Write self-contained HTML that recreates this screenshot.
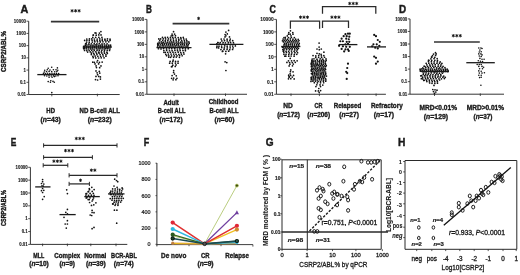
<!DOCTYPE html>
<html><head><meta charset="utf-8"><style>
html,body{margin:0;padding:0;background:#fff;overflow:hidden;}
svg{display:block;font-family:"Liberation Sans", sans-serif;filter:blur(0.45px);}
</style></head><body>
<svg width="520" height="275" viewBox="0 0 520 275">
<rect width="520" height="275" fill="#fff"/>
<text x="20.40" y="12.50" font-size="10.8" text-anchor="start" font-weight="bold" fill="#1a1a1a" textLength="7.800000000000001" lengthAdjust="spacingAndGlyphs" stroke="#1a1a1a" stroke-width="0.45">A</text>
<line x1="28.70" y1="21.20" x2="28.70" y2="94.52" stroke="#2a2a2a" stroke-width="0.95" />
<line x1="26.50" y1="21.20" x2="28.70" y2="21.20" stroke="#2a2a2a" stroke-width="0.8" />
<text x="26.00" y="22.82" font-size="4.5" text-anchor="end" font-weight="bold" fill="#1a1a1a" textLength="12.13" lengthAdjust="spacingAndGlyphs" stroke="#1a1a1a" stroke-width="0.12">10000</text>
<line x1="26.50" y1="33.42" x2="28.70" y2="33.42" stroke="#2a2a2a" stroke-width="0.8" />
<text x="26.00" y="35.04" font-size="4.5" text-anchor="end" font-weight="bold" fill="#1a1a1a" textLength="9.71" lengthAdjust="spacingAndGlyphs" stroke="#1a1a1a" stroke-width="0.12">1000</text>
<line x1="26.50" y1="45.64" x2="28.70" y2="45.64" stroke="#2a2a2a" stroke-width="0.8" />
<text x="26.00" y="47.26" font-size="4.5" text-anchor="end" font-weight="bold" fill="#1a1a1a" textLength="7.28" lengthAdjust="spacingAndGlyphs" stroke="#1a1a1a" stroke-width="0.12">100</text>
<line x1="26.50" y1="57.86" x2="28.70" y2="57.86" stroke="#2a2a2a" stroke-width="0.8" />
<text x="26.00" y="59.48" font-size="4.5" text-anchor="end" font-weight="bold" fill="#1a1a1a" textLength="4.85" lengthAdjust="spacingAndGlyphs" stroke="#1a1a1a" stroke-width="0.12">10</text>
<line x1="26.50" y1="70.08" x2="28.70" y2="70.08" stroke="#2a2a2a" stroke-width="0.8" />
<text x="26.00" y="71.70" font-size="4.5" text-anchor="end" font-weight="bold" fill="#1a1a1a" textLength="2.43" lengthAdjust="spacingAndGlyphs" stroke="#1a1a1a" stroke-width="0.12">1</text>
<line x1="26.50" y1="82.30" x2="28.70" y2="82.30" stroke="#2a2a2a" stroke-width="0.8" />
<text x="26.00" y="83.92" font-size="4.5" text-anchor="end" font-weight="bold" fill="#1a1a1a" textLength="6.07" lengthAdjust="spacingAndGlyphs" stroke="#1a1a1a" stroke-width="0.12">0.1</text>
<line x1="26.50" y1="94.52" x2="28.70" y2="94.52" stroke="#2a2a2a" stroke-width="0.8" />
<text x="26.00" y="96.14" font-size="4.5" text-anchor="end" font-weight="bold" fill="#1a1a1a" textLength="8.49" lengthAdjust="spacingAndGlyphs" stroke="#1a1a1a" stroke-width="0.12">0.01</text>
<line x1="28.70" y1="94.52" x2="119.70" y2="94.52" stroke="#2a2a2a" stroke-width="0.95" />
<line x1="51.80" y1="93.72" x2="51.80" y2="96.32" stroke="#2a2a2a" stroke-width="0.8" />
<line x1="97.40" y1="93.72" x2="97.40" y2="96.32" stroke="#2a2a2a" stroke-width="0.8" />
<line x1="50.90" y1="21.70" x2="99.20" y2="21.70" stroke="#333" stroke-width="1.7" />
<path d="M72.10,9.15L72.10,12.45M70.67,9.98L73.53,11.62M70.67,11.62L73.53,9.98" stroke="#111" stroke-width="0.9" stroke-linecap="butt" fill="none"/>
<path d="M75.60,9.15L75.60,12.45M74.17,9.98L77.03,11.62M74.17,11.62L77.03,9.98" stroke="#111" stroke-width="0.9" stroke-linecap="butt" fill="none"/>
<path d="M79.10,9.15L79.10,12.45M77.67,9.98L80.53,11.62M77.67,11.62L80.53,9.98" stroke="#111" stroke-width="0.9" stroke-linecap="butt" fill="none"/>
<circle cx="51.70" cy="67.20" r="0.82" fill="#111"/>
<circle cx="48.20" cy="68.30" r="0.82" fill="#111"/>
<circle cx="57.40" cy="67.90" r="0.82" fill="#111"/>
<circle cx="44.70" cy="70.30" r="0.82" fill="#111"/>
<circle cx="47.30" cy="69.70" r="0.82" fill="#111"/>
<circle cx="50.00" cy="70.00" r="0.82" fill="#111"/>
<circle cx="53.40" cy="69.70" r="0.82" fill="#111"/>
<circle cx="56.00" cy="69.80" r="0.82" fill="#111"/>
<circle cx="57.80" cy="70.30" r="0.82" fill="#111"/>
<circle cx="44.30" cy="72.00" r="0.82" fill="#111"/>
<circle cx="46.50" cy="71.60" r="0.82" fill="#111"/>
<circle cx="49.10" cy="71.40" r="0.82" fill="#111"/>
<circle cx="51.70" cy="71.60" r="0.82" fill="#111"/>
<circle cx="54.70" cy="71.80" r="0.82" fill="#111"/>
<circle cx="56.90" cy="71.40" r="0.82" fill="#111"/>
<circle cx="43.50" cy="73.40" r="0.82" fill="#111"/>
<circle cx="45.50" cy="73.60" r="0.82" fill="#111"/>
<circle cx="47.60" cy="73.30" r="0.82" fill="#111"/>
<circle cx="49.80" cy="73.50" r="0.82" fill="#111"/>
<circle cx="52.00" cy="73.30" r="0.82" fill="#111"/>
<circle cx="54.20" cy="73.60" r="0.82" fill="#111"/>
<circle cx="56.40" cy="73.40" r="0.82" fill="#111"/>
<circle cx="58.60" cy="73.60" r="0.82" fill="#111"/>
<circle cx="44.50" cy="75.80" r="0.82" fill="#111"/>
<circle cx="46.80" cy="76.00" r="0.82" fill="#111"/>
<circle cx="49.00" cy="75.80" r="0.82" fill="#111"/>
<circle cx="51.30" cy="76.00" r="0.82" fill="#111"/>
<circle cx="53.60" cy="75.80" r="0.82" fill="#111"/>
<circle cx="55.80" cy="76.00" r="0.82" fill="#111"/>
<circle cx="58.00" cy="75.80" r="0.82" fill="#111"/>
<circle cx="49.10" cy="77.30" r="0.82" fill="#111"/>
<circle cx="52.10" cy="77.30" r="0.82" fill="#111"/>
<circle cx="54.30" cy="76.60" r="0.82" fill="#111"/>
<circle cx="48.20" cy="81.60" r="0.82" fill="#111"/>
<circle cx="50.40" cy="82.20" r="0.82" fill="#111"/>
<circle cx="53.00" cy="81.40" r="0.82" fill="#111"/>
<circle cx="54.30" cy="82.20" r="0.82" fill="#111"/>
<circle cx="50.80" cy="80.70" r="0.82" fill="#111"/>
<circle cx="51.80" cy="92.60" r="0.82" fill="#111"/>
<line x1="37.30" y1="74.60" x2="66.50" y2="74.60" stroke="#1a1a1a" stroke-width="1.3" />
<circle cx="100.90" cy="31.60" r="0.86" fill="#111"/>
<circle cx="96.03" cy="33.11" r="0.86" fill="#111"/>
<circle cx="99.42" cy="33.10" r="0.86" fill="#111"/>
<circle cx="95.08" cy="32.93" r="0.86" fill="#111"/>
<circle cx="93.38" cy="34.99" r="0.86" fill="#111"/>
<circle cx="96.23" cy="35.13" r="0.86" fill="#111"/>
<circle cx="98.77" cy="34.92" r="0.86" fill="#111"/>
<circle cx="101.02" cy="34.96" r="0.86" fill="#111"/>
<circle cx="93.23" cy="35.23" r="0.86" fill="#111"/>
<circle cx="92.80" cy="37.42" r="0.86" fill="#111"/>
<circle cx="95.70" cy="37.28" r="0.86" fill="#111"/>
<circle cx="98.87" cy="37.33" r="0.86" fill="#111"/>
<circle cx="101.90" cy="37.32" r="0.86" fill="#111"/>
<circle cx="86.78" cy="39.01" r="0.86" fill="#111"/>
<circle cx="89.42" cy="38.92" r="0.86" fill="#111"/>
<circle cx="91.76" cy="38.97" r="0.86" fill="#111"/>
<circle cx="94.35" cy="39.00" r="0.86" fill="#111"/>
<circle cx="97.14" cy="39.11" r="0.86" fill="#111"/>
<circle cx="99.80" cy="38.93" r="0.86" fill="#111"/>
<circle cx="102.27" cy="39.03" r="0.86" fill="#111"/>
<circle cx="104.94" cy="39.18" r="0.86" fill="#111"/>
<circle cx="107.45" cy="38.82" r="0.86" fill="#111"/>
<circle cx="110.03" cy="39.20" r="0.86" fill="#111"/>
<circle cx="86.89" cy="40.31" r="0.86" fill="#111"/>
<circle cx="89.27" cy="40.35" r="0.86" fill="#111"/>
<circle cx="92.09" cy="40.35" r="0.86" fill="#111"/>
<circle cx="94.52" cy="40.65" r="0.86" fill="#111"/>
<circle cx="97.12" cy="40.52" r="0.86" fill="#111"/>
<circle cx="99.85" cy="40.65" r="0.86" fill="#111"/>
<circle cx="102.27" cy="40.44" r="0.86" fill="#111"/>
<circle cx="105.06" cy="40.36" r="0.86" fill="#111"/>
<circle cx="107.35" cy="40.39" r="0.86" fill="#111"/>
<circle cx="110.07" cy="40.41" r="0.86" fill="#111"/>
<circle cx="84.67" cy="40.45" r="0.86" fill="#111"/>
<circle cx="86.67" cy="42.05" r="0.86" fill="#111"/>
<circle cx="89.24" cy="42.16" r="0.86" fill="#111"/>
<circle cx="92.32" cy="42.12" r="0.86" fill="#111"/>
<circle cx="94.89" cy="41.84" r="0.86" fill="#111"/>
<circle cx="97.51" cy="41.83" r="0.86" fill="#111"/>
<circle cx="100.30" cy="41.94" r="0.86" fill="#111"/>
<circle cx="102.99" cy="41.86" r="0.86" fill="#111"/>
<circle cx="105.89" cy="41.81" r="0.86" fill="#111"/>
<circle cx="108.75" cy="41.86" r="0.86" fill="#111"/>
<circle cx="86.20" cy="43.94" r="0.86" fill="#111"/>
<circle cx="88.92" cy="43.79" r="0.86" fill="#111"/>
<circle cx="91.35" cy="43.74" r="0.86" fill="#111"/>
<circle cx="94.22" cy="43.66" r="0.86" fill="#111"/>
<circle cx="96.84" cy="43.81" r="0.86" fill="#111"/>
<circle cx="99.26" cy="43.61" r="0.86" fill="#111"/>
<circle cx="102.01" cy="43.95" r="0.86" fill="#111"/>
<circle cx="104.30" cy="43.75" r="0.86" fill="#111"/>
<circle cx="107.08" cy="43.81" r="0.86" fill="#111"/>
<circle cx="85.63" cy="43.69" r="0.86" fill="#111"/>
<circle cx="85.31" cy="45.13" r="0.86" fill="#111"/>
<circle cx="87.04" cy="45.01" r="0.86" fill="#111"/>
<circle cx="88.92" cy="44.81" r="0.86" fill="#111"/>
<circle cx="90.96" cy="45.08" r="0.86" fill="#111"/>
<circle cx="93.00" cy="45.17" r="0.86" fill="#111"/>
<circle cx="95.16" cy="44.95" r="0.86" fill="#111"/>
<circle cx="96.82" cy="44.88" r="0.86" fill="#111"/>
<circle cx="98.94" cy="45.16" r="0.86" fill="#111"/>
<circle cx="100.84" cy="45.06" r="0.86" fill="#111"/>
<circle cx="102.64" cy="45.06" r="0.86" fill="#111"/>
<circle cx="104.87" cy="45.10" r="0.86" fill="#111"/>
<circle cx="106.59" cy="45.12" r="0.86" fill="#111"/>
<circle cx="108.79" cy="45.19" r="0.86" fill="#111"/>
<circle cx="110.59" cy="45.18" r="0.86" fill="#111"/>
<circle cx="84.88" cy="46.46" r="0.86" fill="#111"/>
<circle cx="86.84" cy="46.43" r="0.86" fill="#111"/>
<circle cx="89.00" cy="46.24" r="0.86" fill="#111"/>
<circle cx="90.74" cy="46.11" r="0.86" fill="#111"/>
<circle cx="92.91" cy="46.31" r="0.86" fill="#111"/>
<circle cx="94.78" cy="46.45" r="0.86" fill="#111"/>
<circle cx="96.65" cy="46.20" r="0.86" fill="#111"/>
<circle cx="98.61" cy="46.33" r="0.86" fill="#111"/>
<circle cx="100.64" cy="46.15" r="0.86" fill="#111"/>
<circle cx="102.57" cy="46.28" r="0.86" fill="#111"/>
<circle cx="104.75" cy="46.27" r="0.86" fill="#111"/>
<circle cx="106.55" cy="46.31" r="0.86" fill="#111"/>
<circle cx="108.31" cy="46.28" r="0.86" fill="#111"/>
<circle cx="110.26" cy="46.42" r="0.86" fill="#111"/>
<circle cx="83.59" cy="46.39" r="0.86" fill="#111"/>
<circle cx="84.71" cy="47.71" r="0.86" fill="#111"/>
<circle cx="86.67" cy="47.50" r="0.86" fill="#111"/>
<circle cx="88.71" cy="47.60" r="0.86" fill="#111"/>
<circle cx="90.67" cy="47.76" r="0.86" fill="#111"/>
<circle cx="92.56" cy="47.60" r="0.86" fill="#111"/>
<circle cx="94.55" cy="47.58" r="0.86" fill="#111"/>
<circle cx="96.42" cy="47.78" r="0.86" fill="#111"/>
<circle cx="98.54" cy="47.78" r="0.86" fill="#111"/>
<circle cx="100.37" cy="47.78" r="0.86" fill="#111"/>
<circle cx="102.16" cy="47.45" r="0.86" fill="#111"/>
<circle cx="104.09" cy="47.50" r="0.86" fill="#111"/>
<circle cx="106.28" cy="47.71" r="0.86" fill="#111"/>
<circle cx="108.04" cy="47.69" r="0.86" fill="#111"/>
<circle cx="109.99" cy="47.75" r="0.86" fill="#111"/>
<circle cx="83.49" cy="47.78" r="0.86" fill="#111"/>
<circle cx="84.51" cy="48.76" r="0.86" fill="#111"/>
<circle cx="86.34" cy="48.84" r="0.86" fill="#111"/>
<circle cx="88.22" cy="48.99" r="0.86" fill="#111"/>
<circle cx="90.27" cy="48.88" r="0.86" fill="#111"/>
<circle cx="92.14" cy="48.95" r="0.86" fill="#111"/>
<circle cx="93.99" cy="49.09" r="0.86" fill="#111"/>
<circle cx="96.31" cy="48.74" r="0.86" fill="#111"/>
<circle cx="97.90" cy="49.01" r="0.86" fill="#111"/>
<circle cx="99.89" cy="48.87" r="0.86" fill="#111"/>
<circle cx="102.12" cy="48.80" r="0.86" fill="#111"/>
<circle cx="104.12" cy="48.93" r="0.86" fill="#111"/>
<circle cx="105.74" cy="48.72" r="0.86" fill="#111"/>
<circle cx="107.83" cy="48.73" r="0.86" fill="#111"/>
<circle cx="109.87" cy="49.02" r="0.86" fill="#111"/>
<circle cx="83.74" cy="48.73" r="0.86" fill="#111"/>
<circle cx="86.81" cy="50.67" r="0.86" fill="#111"/>
<circle cx="89.17" cy="50.51" r="0.86" fill="#111"/>
<circle cx="91.69" cy="50.36" r="0.86" fill="#111"/>
<circle cx="94.25" cy="50.42" r="0.86" fill="#111"/>
<circle cx="97.01" cy="50.42" r="0.86" fill="#111"/>
<circle cx="99.30" cy="50.44" r="0.86" fill="#111"/>
<circle cx="101.86" cy="50.31" r="0.86" fill="#111"/>
<circle cx="104.51" cy="50.38" r="0.86" fill="#111"/>
<circle cx="107.20" cy="50.34" r="0.86" fill="#111"/>
<circle cx="109.52" cy="50.50" r="0.86" fill="#111"/>
<circle cx="84.56" cy="50.50" r="0.86" fill="#111"/>
<circle cx="87.65" cy="52.08" r="0.86" fill="#111"/>
<circle cx="90.27" cy="51.94" r="0.86" fill="#111"/>
<circle cx="92.94" cy="51.83" r="0.86" fill="#111"/>
<circle cx="95.78" cy="51.87" r="0.86" fill="#111"/>
<circle cx="98.80" cy="52.15" r="0.86" fill="#111"/>
<circle cx="101.37" cy="51.90" r="0.86" fill="#111"/>
<circle cx="104.22" cy="51.86" r="0.86" fill="#111"/>
<circle cx="106.93" cy="52.18" r="0.86" fill="#111"/>
<circle cx="91.40" cy="53.22" r="0.86" fill="#111"/>
<circle cx="93.70" cy="53.25" r="0.86" fill="#111"/>
<circle cx="96.59" cy="53.18" r="0.86" fill="#111"/>
<circle cx="99.07" cy="53.21" r="0.86" fill="#111"/>
<circle cx="101.91" cy="53.12" r="0.86" fill="#111"/>
<circle cx="104.56" cy="53.19" r="0.86" fill="#111"/>
<circle cx="107.34" cy="53.40" r="0.86" fill="#111"/>
<circle cx="91.35" cy="54.53" r="0.86" fill="#111"/>
<circle cx="94.14" cy="54.69" r="0.86" fill="#111"/>
<circle cx="96.98" cy="54.73" r="0.86" fill="#111"/>
<circle cx="100.10" cy="54.69" r="0.86" fill="#111"/>
<circle cx="102.78" cy="54.61" r="0.86" fill="#111"/>
<circle cx="105.94" cy="54.72" r="0.86" fill="#111"/>
<circle cx="92.84" cy="56.28" r="0.86" fill="#111"/>
<circle cx="95.19" cy="56.05" r="0.86" fill="#111"/>
<circle cx="97.84" cy="56.33" r="0.86" fill="#111"/>
<circle cx="100.66" cy="56.25" r="0.86" fill="#111"/>
<circle cx="103.22" cy="56.00" r="0.86" fill="#111"/>
<circle cx="105.94" cy="56.20" r="0.86" fill="#111"/>
<circle cx="93.24" cy="57.70" r="0.86" fill="#111"/>
<circle cx="95.75" cy="57.89" r="0.86" fill="#111"/>
<circle cx="98.64" cy="57.99" r="0.86" fill="#111"/>
<circle cx="101.20" cy="57.79" r="0.86" fill="#111"/>
<circle cx="104.05" cy="57.85" r="0.86" fill="#111"/>
<circle cx="97.60" cy="60.50" r="0.86" fill="#111"/>
<circle cx="94.34" cy="62.30" r="0.86" fill="#111"/>
<circle cx="97.02" cy="62.00" r="0.86" fill="#111"/>
<circle cx="99.45" cy="62.27" r="0.86" fill="#111"/>
<circle cx="102.16" cy="62.12" r="0.86" fill="#111"/>
<circle cx="92.79" cy="62.19" r="0.86" fill="#111"/>
<circle cx="95.04" cy="63.97" r="0.86" fill="#111"/>
<circle cx="98.58" cy="63.93" r="0.86" fill="#111"/>
<circle cx="96.08" cy="65.91" r="0.86" fill="#111"/>
<circle cx="100.98" cy="65.88" r="0.86" fill="#111"/>
<circle cx="96.46" cy="67.61" r="0.86" fill="#111"/>
<circle cx="99.65" cy="67.73" r="0.86" fill="#111"/>
<circle cx="96.00" cy="70.90" r="0.86" fill="#111"/>
<circle cx="99.30" cy="71.40" r="0.86" fill="#111"/>
<circle cx="97.10" cy="72.80" r="0.86" fill="#111"/>
<circle cx="99.80" cy="73.10" r="0.86" fill="#111"/>
<circle cx="97.60" cy="74.70" r="0.86" fill="#111"/>
<circle cx="96.00" cy="76.40" r="0.86" fill="#111"/>
<circle cx="98.70" cy="76.40" r="0.86" fill="#111"/>
<circle cx="100.40" cy="76.90" r="0.86" fill="#111"/>
<circle cx="95.50" cy="79.60" r="0.86" fill="#111"/>
<circle cx="97.60" cy="80.00" r="0.86" fill="#111"/>
<circle cx="100.40" cy="79.10" r="0.86" fill="#111"/>
<line x1="83.00" y1="47.00" x2="112.00" y2="47.00" stroke="#1a1a1a" stroke-width="1.3" />
<text x="50.65" y="113.00" font-size="7.0" text-anchor="middle" font-weight="bold" fill="#1a1a1a" textLength="8.700000000000003" lengthAdjust="spacingAndGlyphs" stroke="#1a1a1a" stroke-width="0.36">HD</text>
<text x="50.70" y="121.80" font-size="7.0" text-anchor="middle" font-weight="bold" fill="#1a1a1a" textLength="20.199999999999996" lengthAdjust="spacingAndGlyphs" stroke="#1a1a1a" stroke-width="0.36">(<tspan font-style="italic">n</tspan>=43)</text>
<text x="99.80" y="113.00" font-size="7.0" text-anchor="middle" font-weight="bold" fill="#1a1a1a" textLength="40.400000000000006" lengthAdjust="spacingAndGlyphs" stroke="#1a1a1a" stroke-width="0.36">ND B-cell ALL</text>
<text x="99.70" y="121.80" font-size="7.0" text-anchor="middle" font-weight="bold" fill="#1a1a1a" textLength="24.0" lengthAdjust="spacingAndGlyphs" stroke="#1a1a1a" stroke-width="0.36">(<tspan font-style="italic">n</tspan>=232)</text>
<text x="6.20" y="51.50" font-size="6.8" text-anchor="middle" font-weight="bold" fill="#1a1a1a" textLength="41" lengthAdjust="spacingAndGlyphs" transform="rotate(-90 6.20 51.50)" stroke="#1a1a1a" stroke-width="0.4">CSRP2/ABL%</text>
<text x="145.90" y="12.50" font-size="10.8" text-anchor="start" font-weight="bold" fill="#1a1a1a" textLength="5.900000000000006" lengthAdjust="spacingAndGlyphs" stroke="#1a1a1a" stroke-width="0.45">B</text>
<line x1="146.90" y1="19.40" x2="146.90" y2="94.28" stroke="#2a2a2a" stroke-width="0.95" />
<line x1="144.70" y1="19.40" x2="146.90" y2="19.40" stroke="#2a2a2a" stroke-width="0.8" />
<text x="144.20" y="21.02" font-size="4.5" text-anchor="end" font-weight="bold" fill="#1a1a1a" textLength="12.13" lengthAdjust="spacingAndGlyphs" stroke="#1a1a1a" stroke-width="0.12">10000</text>
<line x1="144.70" y1="31.88" x2="146.90" y2="31.88" stroke="#2a2a2a" stroke-width="0.8" />
<text x="144.20" y="33.50" font-size="4.5" text-anchor="end" font-weight="bold" fill="#1a1a1a" textLength="9.71" lengthAdjust="spacingAndGlyphs" stroke="#1a1a1a" stroke-width="0.12">1000</text>
<line x1="144.70" y1="44.36" x2="146.90" y2="44.36" stroke="#2a2a2a" stroke-width="0.8" />
<text x="144.20" y="45.98" font-size="4.5" text-anchor="end" font-weight="bold" fill="#1a1a1a" textLength="7.28" lengthAdjust="spacingAndGlyphs" stroke="#1a1a1a" stroke-width="0.12">100</text>
<line x1="144.70" y1="56.84" x2="146.90" y2="56.84" stroke="#2a2a2a" stroke-width="0.8" />
<text x="144.20" y="58.46" font-size="4.5" text-anchor="end" font-weight="bold" fill="#1a1a1a" textLength="4.85" lengthAdjust="spacingAndGlyphs" stroke="#1a1a1a" stroke-width="0.12">10</text>
<line x1="144.70" y1="69.32" x2="146.90" y2="69.32" stroke="#2a2a2a" stroke-width="0.8" />
<text x="144.20" y="70.94" font-size="4.5" text-anchor="end" font-weight="bold" fill="#1a1a1a" textLength="2.43" lengthAdjust="spacingAndGlyphs" stroke="#1a1a1a" stroke-width="0.12">1</text>
<line x1="144.70" y1="81.80" x2="146.90" y2="81.80" stroke="#2a2a2a" stroke-width="0.8" />
<text x="144.20" y="83.42" font-size="4.5" text-anchor="end" font-weight="bold" fill="#1a1a1a" textLength="6.07" lengthAdjust="spacingAndGlyphs" stroke="#1a1a1a" stroke-width="0.12">0.1</text>
<line x1="144.70" y1="94.28" x2="146.90" y2="94.28" stroke="#2a2a2a" stroke-width="0.8" />
<text x="144.20" y="95.90" font-size="4.5" text-anchor="end" font-weight="bold" fill="#1a1a1a" textLength="8.49" lengthAdjust="spacingAndGlyphs" stroke="#1a1a1a" stroke-width="0.12">0.01</text>
<line x1="146.90" y1="94.28" x2="247.00" y2="94.28" stroke="#2a2a2a" stroke-width="0.95" />
<line x1="174.00" y1="93.48" x2="174.00" y2="96.08" stroke="#2a2a2a" stroke-width="0.8" />
<line x1="225.50" y1="93.48" x2="225.50" y2="96.08" stroke="#2a2a2a" stroke-width="0.8" />
<line x1="172.60" y1="23.60" x2="229.30" y2="23.60" stroke="#333" stroke-width="1.7" />
<path d="M198.60,16.75L198.60,20.05M197.17,17.57L200.03,19.22M197.17,19.22L200.03,17.57" stroke="#111" stroke-width="0.9" stroke-linecap="butt" fill="none"/>
<circle cx="173.56" cy="31.68" r="0.86" fill="#111"/>
<circle cx="172.06" cy="34.09" r="0.86" fill="#111"/>
<circle cx="174.60" cy="34.10" r="0.86" fill="#111"/>
<circle cx="172.67" cy="35.53" r="0.86" fill="#111"/>
<circle cx="175.48" cy="35.70" r="0.86" fill="#111"/>
<circle cx="171.25" cy="35.77" r="0.86" fill="#111"/>
<circle cx="162.49" cy="37.46" r="0.86" fill="#111"/>
<circle cx="165.15" cy="37.44" r="0.86" fill="#111"/>
<circle cx="167.60" cy="37.32" r="0.86" fill="#111"/>
<circle cx="170.41" cy="37.41" r="0.86" fill="#111"/>
<circle cx="172.75" cy="37.41" r="0.86" fill="#111"/>
<circle cx="175.30" cy="37.45" r="0.86" fill="#111"/>
<circle cx="178.16" cy="37.62" r="0.86" fill="#111"/>
<circle cx="180.75" cy="37.68" r="0.86" fill="#111"/>
<circle cx="183.25" cy="37.32" r="0.86" fill="#111"/>
<circle cx="160.64" cy="38.91" r="0.86" fill="#111"/>
<circle cx="163.33" cy="38.85" r="0.86" fill="#111"/>
<circle cx="165.67" cy="38.92" r="0.86" fill="#111"/>
<circle cx="168.49" cy="38.90" r="0.86" fill="#111"/>
<circle cx="170.80" cy="39.02" r="0.86" fill="#111"/>
<circle cx="173.31" cy="38.86" r="0.86" fill="#111"/>
<circle cx="176.18" cy="39.00" r="0.86" fill="#111"/>
<circle cx="178.75" cy="39.20" r="0.86" fill="#111"/>
<circle cx="181.02" cy="38.88" r="0.86" fill="#111"/>
<circle cx="183.67" cy="38.84" r="0.86" fill="#111"/>
<circle cx="186.21" cy="39.03" r="0.86" fill="#111"/>
<circle cx="158.80" cy="38.97" r="0.86" fill="#111"/>
<circle cx="159.76" cy="40.32" r="0.86" fill="#111"/>
<circle cx="162.72" cy="40.35" r="0.86" fill="#111"/>
<circle cx="165.29" cy="40.65" r="0.86" fill="#111"/>
<circle cx="167.86" cy="40.40" r="0.86" fill="#111"/>
<circle cx="170.64" cy="40.68" r="0.86" fill="#111"/>
<circle cx="173.52" cy="40.31" r="0.86" fill="#111"/>
<circle cx="176.16" cy="40.66" r="0.86" fill="#111"/>
<circle cx="178.82" cy="40.30" r="0.86" fill="#111"/>
<circle cx="181.66" cy="40.63" r="0.86" fill="#111"/>
<circle cx="184.39" cy="40.40" r="0.86" fill="#111"/>
<circle cx="186.77" cy="40.51" r="0.86" fill="#111"/>
<circle cx="159.12" cy="42.11" r="0.86" fill="#111"/>
<circle cx="161.21" cy="41.82" r="0.86" fill="#111"/>
<circle cx="163.22" cy="42.17" r="0.86" fill="#111"/>
<circle cx="165.38" cy="41.85" r="0.86" fill="#111"/>
<circle cx="167.64" cy="42.08" r="0.86" fill="#111"/>
<circle cx="169.55" cy="42.01" r="0.86" fill="#111"/>
<circle cx="171.81" cy="41.89" r="0.86" fill="#111"/>
<circle cx="173.79" cy="41.92" r="0.86" fill="#111"/>
<circle cx="176.31" cy="42.06" r="0.86" fill="#111"/>
<circle cx="178.24" cy="41.89" r="0.86" fill="#111"/>
<circle cx="180.57" cy="42.08" r="0.86" fill="#111"/>
<circle cx="182.33" cy="42.00" r="0.86" fill="#111"/>
<circle cx="184.62" cy="41.90" r="0.86" fill="#111"/>
<circle cx="186.96" cy="41.89" r="0.86" fill="#111"/>
<circle cx="188.86" cy="41.97" r="0.86" fill="#111"/>
<circle cx="159.06" cy="43.30" r="0.86" fill="#111"/>
<circle cx="161.15" cy="43.22" r="0.86" fill="#111"/>
<circle cx="162.86" cy="43.19" r="0.86" fill="#111"/>
<circle cx="164.88" cy="43.48" r="0.86" fill="#111"/>
<circle cx="166.84" cy="43.19" r="0.86" fill="#111"/>
<circle cx="169.03" cy="43.48" r="0.86" fill="#111"/>
<circle cx="170.92" cy="43.19" r="0.86" fill="#111"/>
<circle cx="172.82" cy="43.12" r="0.86" fill="#111"/>
<circle cx="174.92" cy="43.46" r="0.86" fill="#111"/>
<circle cx="177.06" cy="43.50" r="0.86" fill="#111"/>
<circle cx="178.90" cy="43.17" r="0.86" fill="#111"/>
<circle cx="181.06" cy="43.11" r="0.86" fill="#111"/>
<circle cx="182.92" cy="43.25" r="0.86" fill="#111"/>
<circle cx="184.83" cy="43.10" r="0.86" fill="#111"/>
<circle cx="186.90" cy="43.48" r="0.86" fill="#111"/>
<circle cx="189.15" cy="43.18" r="0.86" fill="#111"/>
<circle cx="157.73" cy="43.43" r="0.86" fill="#111"/>
<circle cx="158.42" cy="44.77" r="0.86" fill="#111"/>
<circle cx="160.41" cy="44.76" r="0.86" fill="#111"/>
<circle cx="162.43" cy="44.72" r="0.86" fill="#111"/>
<circle cx="164.28" cy="44.41" r="0.86" fill="#111"/>
<circle cx="166.63" cy="44.50" r="0.86" fill="#111"/>
<circle cx="168.62" cy="44.54" r="0.86" fill="#111"/>
<circle cx="170.65" cy="44.65" r="0.86" fill="#111"/>
<circle cx="172.55" cy="44.53" r="0.86" fill="#111"/>
<circle cx="174.27" cy="44.70" r="0.86" fill="#111"/>
<circle cx="176.52" cy="44.78" r="0.86" fill="#111"/>
<circle cx="178.36" cy="44.59" r="0.86" fill="#111"/>
<circle cx="180.65" cy="44.55" r="0.86" fill="#111"/>
<circle cx="182.44" cy="44.60" r="0.86" fill="#111"/>
<circle cx="184.34" cy="44.72" r="0.86" fill="#111"/>
<circle cx="186.59" cy="44.71" r="0.86" fill="#111"/>
<circle cx="188.39" cy="44.53" r="0.86" fill="#111"/>
<circle cx="157.71" cy="44.43" r="0.86" fill="#111"/>
<circle cx="157.82" cy="45.71" r="0.86" fill="#111"/>
<circle cx="159.93" cy="46.09" r="0.86" fill="#111"/>
<circle cx="162.19" cy="45.81" r="0.86" fill="#111"/>
<circle cx="163.83" cy="45.90" r="0.86" fill="#111"/>
<circle cx="165.97" cy="45.79" r="0.86" fill="#111"/>
<circle cx="168.04" cy="45.97" r="0.86" fill="#111"/>
<circle cx="170.13" cy="45.97" r="0.86" fill="#111"/>
<circle cx="172.13" cy="45.82" r="0.86" fill="#111"/>
<circle cx="173.94" cy="46.00" r="0.86" fill="#111"/>
<circle cx="175.89" cy="45.80" r="0.86" fill="#111"/>
<circle cx="178.15" cy="45.93" r="0.86" fill="#111"/>
<circle cx="179.95" cy="46.10" r="0.86" fill="#111"/>
<circle cx="181.89" cy="46.02" r="0.86" fill="#111"/>
<circle cx="184.19" cy="45.74" r="0.86" fill="#111"/>
<circle cx="186.12" cy="46.04" r="0.86" fill="#111"/>
<circle cx="187.81" cy="45.82" r="0.86" fill="#111"/>
<circle cx="157.87" cy="47.37" r="0.86" fill="#111"/>
<circle cx="159.99" cy="47.18" r="0.86" fill="#111"/>
<circle cx="161.95" cy="47.38" r="0.86" fill="#111"/>
<circle cx="163.88" cy="47.25" r="0.86" fill="#111"/>
<circle cx="165.79" cy="47.06" r="0.86" fill="#111"/>
<circle cx="167.74" cy="47.24" r="0.86" fill="#111"/>
<circle cx="169.72" cy="47.00" r="0.86" fill="#111"/>
<circle cx="171.91" cy="47.07" r="0.86" fill="#111"/>
<circle cx="173.72" cy="47.32" r="0.86" fill="#111"/>
<circle cx="175.66" cy="47.04" r="0.86" fill="#111"/>
<circle cx="177.86" cy="47.26" r="0.86" fill="#111"/>
<circle cx="179.70" cy="47.28" r="0.86" fill="#111"/>
<circle cx="181.75" cy="47.12" r="0.86" fill="#111"/>
<circle cx="183.76" cy="47.23" r="0.86" fill="#111"/>
<circle cx="185.80" cy="47.35" r="0.86" fill="#111"/>
<circle cx="187.78" cy="47.08" r="0.86" fill="#111"/>
<circle cx="157.48" cy="47.00" r="0.86" fill="#111"/>
<circle cx="161.01" cy="48.95" r="0.86" fill="#111"/>
<circle cx="163.62" cy="48.61" r="0.86" fill="#111"/>
<circle cx="166.52" cy="48.96" r="0.86" fill="#111"/>
<circle cx="169.22" cy="48.75" r="0.86" fill="#111"/>
<circle cx="171.74" cy="48.71" r="0.86" fill="#111"/>
<circle cx="174.76" cy="48.64" r="0.86" fill="#111"/>
<circle cx="177.42" cy="48.99" r="0.86" fill="#111"/>
<circle cx="179.86" cy="48.98" r="0.86" fill="#111"/>
<circle cx="182.71" cy="48.62" r="0.86" fill="#111"/>
<circle cx="185.38" cy="48.96" r="0.86" fill="#111"/>
<circle cx="188.26" cy="48.66" r="0.86" fill="#111"/>
<circle cx="158.49" cy="48.76" r="0.86" fill="#111"/>
<circle cx="163.87" cy="50.56" r="0.86" fill="#111"/>
<circle cx="166.64" cy="50.45" r="0.86" fill="#111"/>
<circle cx="169.48" cy="50.76" r="0.86" fill="#111"/>
<circle cx="172.11" cy="50.70" r="0.86" fill="#111"/>
<circle cx="174.92" cy="50.45" r="0.86" fill="#111"/>
<circle cx="177.50" cy="50.65" r="0.86" fill="#111"/>
<circle cx="180.15" cy="50.63" r="0.86" fill="#111"/>
<circle cx="182.95" cy="50.58" r="0.86" fill="#111"/>
<circle cx="185.39" cy="50.65" r="0.86" fill="#111"/>
<circle cx="165.20" cy="52.38" r="0.86" fill="#111"/>
<circle cx="167.70" cy="52.24" r="0.86" fill="#111"/>
<circle cx="170.31" cy="52.24" r="0.86" fill="#111"/>
<circle cx="172.96" cy="52.22" r="0.86" fill="#111"/>
<circle cx="175.42" cy="52.49" r="0.86" fill="#111"/>
<circle cx="178.21" cy="52.22" r="0.86" fill="#111"/>
<circle cx="180.78" cy="52.58" r="0.86" fill="#111"/>
<circle cx="183.60" cy="52.60" r="0.86" fill="#111"/>
<circle cx="163.93" cy="52.28" r="0.86" fill="#111"/>
<circle cx="168.38" cy="54.07" r="0.86" fill="#111"/>
<circle cx="171.04" cy="54.03" r="0.86" fill="#111"/>
<circle cx="173.63" cy="54.06" r="0.86" fill="#111"/>
<circle cx="176.09" cy="54.33" r="0.86" fill="#111"/>
<circle cx="178.84" cy="54.37" r="0.86" fill="#111"/>
<circle cx="181.40" cy="54.20" r="0.86" fill="#111"/>
<circle cx="183.96" cy="54.07" r="0.86" fill="#111"/>
<circle cx="165.78" cy="54.27" r="0.86" fill="#111"/>
<circle cx="168.81" cy="55.81" r="0.86" fill="#111"/>
<circle cx="171.54" cy="55.95" r="0.86" fill="#111"/>
<circle cx="174.26" cy="55.95" r="0.86" fill="#111"/>
<circle cx="177.05" cy="55.85" r="0.86" fill="#111"/>
<circle cx="179.61" cy="55.71" r="0.86" fill="#111"/>
<circle cx="182.15" cy="55.74" r="0.86" fill="#111"/>
<circle cx="166.58" cy="55.67" r="0.86" fill="#111"/>
<circle cx="170.64" cy="57.36" r="0.86" fill="#111"/>
<circle cx="173.65" cy="57.37" r="0.86" fill="#111"/>
<circle cx="176.29" cy="57.11" r="0.86" fill="#111"/>
<circle cx="179.41" cy="57.27" r="0.86" fill="#111"/>
<circle cx="168.76" cy="57.15" r="0.86" fill="#111"/>
<circle cx="173.20" cy="60.10" r="0.86" fill="#111"/>
<circle cx="170.09" cy="61.44" r="0.86" fill="#111"/>
<circle cx="172.83" cy="61.39" r="0.86" fill="#111"/>
<circle cx="175.53" cy="61.38" r="0.86" fill="#111"/>
<circle cx="178.08" cy="61.35" r="0.86" fill="#111"/>
<circle cx="172.26" cy="63.16" r="0.86" fill="#111"/>
<circle cx="175.43" cy="63.06" r="0.86" fill="#111"/>
<circle cx="178.02" cy="63.16" r="0.86" fill="#111"/>
<circle cx="169.64" cy="63.16" r="0.86" fill="#111"/>
<circle cx="172.80" cy="65.16" r="0.86" fill="#111"/>
<circle cx="176.06" cy="64.96" r="0.86" fill="#111"/>
<circle cx="172.06" cy="66.62" r="0.86" fill="#111"/>
<circle cx="175.26" cy="66.48" r="0.86" fill="#111"/>
<circle cx="171.50" cy="66.66" r="0.86" fill="#111"/>
<circle cx="173.67" cy="70.52" r="0.86" fill="#111"/>
<circle cx="173.62" cy="72.46" r="0.86" fill="#111"/>
<circle cx="174.50" cy="74.10" r="0.86" fill="#111"/>
<circle cx="172.09" cy="75.60" r="0.86" fill="#111"/>
<circle cx="176.20" cy="75.79" r="0.86" fill="#111"/>
<circle cx="173.68" cy="78.09" r="0.86" fill="#111"/>
<circle cx="176.92" cy="78.30" r="0.86" fill="#111"/>
<circle cx="171.64" cy="78.28" r="0.86" fill="#111"/>
<circle cx="173.12" cy="79.77" r="0.86" fill="#111"/>
<circle cx="175.91" cy="79.71" r="0.86" fill="#111"/>
<line x1="156.60" y1="47.60" x2="191.50" y2="47.60" stroke="#1a1a1a" stroke-width="1.3" />
<circle cx="228.60" cy="30.40" r="0.86" fill="#111"/>
<circle cx="225.90" cy="32.10" r="0.86" fill="#111"/>
<circle cx="227.30" cy="33.90" r="0.86" fill="#111"/>
<circle cx="225.10" cy="34.60" r="0.86" fill="#111"/>
<circle cx="225.90" cy="35.80" r="0.86" fill="#111"/>
<circle cx="224.99" cy="36.89" r="0.86" fill="#111"/>
<circle cx="229.50" cy="36.90" r="0.86" fill="#111"/>
<circle cx="221.20" cy="39.03" r="0.86" fill="#111"/>
<circle cx="224.01" cy="39.00" r="0.86" fill="#111"/>
<circle cx="227.10" cy="39.18" r="0.86" fill="#111"/>
<circle cx="230.22" cy="39.09" r="0.86" fill="#111"/>
<circle cx="221.86" cy="40.89" r="0.86" fill="#111"/>
<circle cx="224.53" cy="40.68" r="0.86" fill="#111"/>
<circle cx="227.15" cy="40.96" r="0.86" fill="#111"/>
<circle cx="229.85" cy="40.64" r="0.86" fill="#111"/>
<circle cx="232.70" cy="40.66" r="0.86" fill="#111"/>
<circle cx="217.93" cy="42.68" r="0.86" fill="#111"/>
<circle cx="220.27" cy="42.64" r="0.86" fill="#111"/>
<circle cx="223.14" cy="42.73" r="0.86" fill="#111"/>
<circle cx="225.41" cy="42.75" r="0.86" fill="#111"/>
<circle cx="228.34" cy="42.44" r="0.86" fill="#111"/>
<circle cx="230.57" cy="42.41" r="0.86" fill="#111"/>
<circle cx="233.43" cy="42.65" r="0.86" fill="#111"/>
<circle cx="217.85" cy="42.51" r="0.86" fill="#111"/>
<circle cx="216.77" cy="44.23" r="0.86" fill="#111"/>
<circle cx="219.52" cy="44.20" r="0.86" fill="#111"/>
<circle cx="222.63" cy="44.25" r="0.86" fill="#111"/>
<circle cx="225.55" cy="44.30" r="0.86" fill="#111"/>
<circle cx="228.24" cy="44.11" r="0.86" fill="#111"/>
<circle cx="231.00" cy="44.41" r="0.86" fill="#111"/>
<circle cx="233.93" cy="44.32" r="0.86" fill="#111"/>
<circle cx="216.75" cy="44.14" r="0.86" fill="#111"/>
<circle cx="219.00" cy="46.20" r="0.86" fill="#111"/>
<circle cx="221.62" cy="46.10" r="0.86" fill="#111"/>
<circle cx="224.63" cy="45.97" r="0.86" fill="#111"/>
<circle cx="227.15" cy="46.23" r="0.86" fill="#111"/>
<circle cx="230.09" cy="46.01" r="0.86" fill="#111"/>
<circle cx="232.69" cy="46.10" r="0.86" fill="#111"/>
<circle cx="235.37" cy="45.93" r="0.86" fill="#111"/>
<circle cx="216.98" cy="46.21" r="0.86" fill="#111"/>
<circle cx="218.66" cy="47.96" r="0.86" fill="#111"/>
<circle cx="221.72" cy="47.61" r="0.86" fill="#111"/>
<circle cx="224.34" cy="47.96" r="0.86" fill="#111"/>
<circle cx="227.25" cy="47.95" r="0.86" fill="#111"/>
<circle cx="230.15" cy="47.81" r="0.86" fill="#111"/>
<circle cx="233.13" cy="47.86" r="0.86" fill="#111"/>
<circle cx="216.83" cy="47.66" r="0.86" fill="#111"/>
<circle cx="220.93" cy="49.58" r="0.86" fill="#111"/>
<circle cx="224.01" cy="49.45" r="0.86" fill="#111"/>
<circle cx="227.06" cy="49.50" r="0.86" fill="#111"/>
<circle cx="229.74" cy="49.68" r="0.86" fill="#111"/>
<circle cx="232.60" cy="49.46" r="0.86" fill="#111"/>
<circle cx="222.76" cy="51.23" r="0.86" fill="#111"/>
<circle cx="225.88" cy="51.39" r="0.86" fill="#111"/>
<circle cx="228.68" cy="51.14" r="0.86" fill="#111"/>
<circle cx="222.40" cy="51.42" r="0.86" fill="#111"/>
<circle cx="225.58" cy="53.78" r="0.86" fill="#111"/>
<circle cx="225.10" cy="61.80" r="0.86" fill="#111"/>
<circle cx="226.80" cy="62.60" r="0.86" fill="#111"/>
<circle cx="225.90" cy="70.50" r="0.86" fill="#111"/>
<line x1="209.40" y1="44.30" x2="243.40" y2="44.30" stroke="#1a1a1a" stroke-width="1.3" />
<text x="171.15" y="104.60" font-size="7.0" text-anchor="middle" font-weight="bold" fill="#1a1a1a" textLength="15.300000000000011" lengthAdjust="spacingAndGlyphs" stroke="#1a1a1a" stroke-width="0.36">Adult</text>
<text x="171.65" y="113.20" font-size="7.0" text-anchor="middle" font-weight="bold" fill="#1a1a1a" textLength="27.900000000000006" lengthAdjust="spacingAndGlyphs" stroke="#1a1a1a" stroke-width="0.36">B-cell ALL</text>
<text x="171.15" y="121.90" font-size="7.0" text-anchor="middle" font-weight="bold" fill="#1a1a1a" textLength="23.099999999999994" lengthAdjust="spacingAndGlyphs" stroke="#1a1a1a" stroke-width="0.36">(<tspan font-style="italic">n</tspan>=172)</text>
<text x="223.60" y="104.20" font-size="7.0" text-anchor="middle" font-weight="bold" fill="#1a1a1a" textLength="29.80000000000001" lengthAdjust="spacingAndGlyphs" stroke="#1a1a1a" stroke-width="0.36">Childhood</text>
<text x="224.05" y="112.90" font-size="7.0" text-anchor="middle" font-weight="bold" fill="#1a1a1a" textLength="28.900000000000006" lengthAdjust="spacingAndGlyphs" stroke="#1a1a1a" stroke-width="0.36">B-cell ALL</text>
<text x="224.50" y="121.50" font-size="7.0" text-anchor="middle" font-weight="bold" fill="#1a1a1a" textLength="20.19999999999999" lengthAdjust="spacingAndGlyphs" stroke="#1a1a1a" stroke-width="0.36">(<tspan font-style="italic">n</tspan>=60)</text>
<text x="269.60" y="12.50" font-size="10.8" text-anchor="start" font-weight="bold" fill="#1a1a1a" textLength="6.399999999999977" lengthAdjust="spacingAndGlyphs" stroke="#1a1a1a" stroke-width="0.45">C</text>
<line x1="276.40" y1="19.40" x2="276.40" y2="94.28" stroke="#2a2a2a" stroke-width="0.95" />
<line x1="274.20" y1="19.40" x2="276.40" y2="19.40" stroke="#2a2a2a" stroke-width="0.8" />
<text x="273.70" y="21.20" font-size="5.0" text-anchor="end" font-weight="bold" fill="#1a1a1a" textLength="13.48" lengthAdjust="spacingAndGlyphs" stroke="#1a1a1a" stroke-width="0.12">10000</text>
<line x1="274.20" y1="31.88" x2="276.40" y2="31.88" stroke="#2a2a2a" stroke-width="0.8" />
<text x="273.70" y="33.68" font-size="5.0" text-anchor="end" font-weight="bold" fill="#1a1a1a" textLength="10.79" lengthAdjust="spacingAndGlyphs" stroke="#1a1a1a" stroke-width="0.12">1000</text>
<line x1="274.20" y1="44.36" x2="276.40" y2="44.36" stroke="#2a2a2a" stroke-width="0.8" />
<text x="273.70" y="46.16" font-size="5.0" text-anchor="end" font-weight="bold" fill="#1a1a1a" textLength="8.09" lengthAdjust="spacingAndGlyphs" stroke="#1a1a1a" stroke-width="0.12">100</text>
<line x1="274.20" y1="56.84" x2="276.40" y2="56.84" stroke="#2a2a2a" stroke-width="0.8" />
<text x="273.70" y="58.64" font-size="5.0" text-anchor="end" font-weight="bold" fill="#1a1a1a" textLength="5.39" lengthAdjust="spacingAndGlyphs" stroke="#1a1a1a" stroke-width="0.12">10</text>
<line x1="274.20" y1="69.32" x2="276.40" y2="69.32" stroke="#2a2a2a" stroke-width="0.8" />
<text x="273.70" y="71.12" font-size="5.0" text-anchor="end" font-weight="bold" fill="#1a1a1a" textLength="2.7" lengthAdjust="spacingAndGlyphs" stroke="#1a1a1a" stroke-width="0.12">1</text>
<line x1="274.20" y1="81.80" x2="276.40" y2="81.80" stroke="#2a2a2a" stroke-width="0.8" />
<text x="273.70" y="83.60" font-size="5.0" text-anchor="end" font-weight="bold" fill="#1a1a1a" textLength="6.74" lengthAdjust="spacingAndGlyphs" stroke="#1a1a1a" stroke-width="0.12">0.1</text>
<line x1="274.20" y1="94.28" x2="276.40" y2="94.28" stroke="#2a2a2a" stroke-width="0.8" />
<text x="273.70" y="96.08" font-size="5.0" text-anchor="end" font-weight="bold" fill="#1a1a1a" textLength="9.44" lengthAdjust="spacingAndGlyphs" stroke="#1a1a1a" stroke-width="0.12">0.01</text>
<line x1="276.40" y1="94.28" x2="385.90" y2="94.28" stroke="#2a2a2a" stroke-width="0.95" />
<line x1="291.00" y1="93.48" x2="291.00" y2="96.08" stroke="#2a2a2a" stroke-width="0.8" />
<line x1="319.40" y1="93.48" x2="319.40" y2="96.08" stroke="#2a2a2a" stroke-width="0.8" />
<line x1="348.00" y1="93.48" x2="348.00" y2="96.08" stroke="#2a2a2a" stroke-width="0.8" />
<line x1="376.10" y1="93.48" x2="376.10" y2="96.08" stroke="#2a2a2a" stroke-width="0.8" />
<polyline points="290.4,28.8 290.4,21.2 319.6,21.2 319.6,28.8" fill="none" stroke="#2a2a2a" stroke-width="1.25"/>
<polyline points="322.5,28.0 322.5,21.2 348.5,21.2 348.5,28.0" fill="none" stroke="#2a2a2a" stroke-width="1.25"/>
<polyline points="322.5,13.8 322.5,6.7 375.8,6.7 375.8,13.8" fill="none" stroke="#2a2a2a" stroke-width="1.25"/>
<path d="M300.50,15.55L300.50,18.85M299.07,16.38L301.93,18.02M299.07,18.02L301.93,16.38" stroke="#111" stroke-width="0.9" stroke-linecap="butt" fill="none"/>
<path d="M304.00,15.55L304.00,18.85M302.57,16.38L305.43,18.02M302.57,18.02L305.43,16.38" stroke="#111" stroke-width="0.9" stroke-linecap="butt" fill="none"/>
<path d="M307.50,15.55L307.50,18.85M306.07,16.38L308.93,18.02M306.07,18.02L308.93,16.38" stroke="#111" stroke-width="0.9" stroke-linecap="butt" fill="none"/>
<path d="M331.90,15.55L331.90,18.85M330.47,16.38L333.33,18.02M330.47,18.02L333.33,16.38" stroke="#111" stroke-width="0.9" stroke-linecap="butt" fill="none"/>
<path d="M335.40,15.55L335.40,18.85M333.97,16.38L336.83,18.02M333.97,18.02L336.83,16.38" stroke="#111" stroke-width="0.9" stroke-linecap="butt" fill="none"/>
<path d="M338.90,15.55L338.90,18.85M337.47,16.38L340.33,18.02M337.47,18.02L340.33,16.38" stroke="#111" stroke-width="0.9" stroke-linecap="butt" fill="none"/>
<path d="M349.70,1.85L349.70,5.15M348.27,2.68L351.13,4.33M348.27,4.33L351.13,2.68" stroke="#111" stroke-width="0.9" stroke-linecap="butt" fill="none"/>
<path d="M353.20,1.85L353.20,5.15M351.77,2.68L354.63,4.33M351.77,4.33L354.63,2.68" stroke="#111" stroke-width="0.9" stroke-linecap="butt" fill="none"/>
<path d="M356.70,1.85L356.70,5.15M355.27,2.68L358.13,4.33M355.27,4.33L358.13,2.68" stroke="#111" stroke-width="0.9" stroke-linecap="butt" fill="none"/>
<circle cx="290.44" cy="30.78" r="0.86" fill="#111"/>
<circle cx="288.82" cy="32.56" r="0.86" fill="#111"/>
<circle cx="292.78" cy="32.60" r="0.86" fill="#111"/>
<circle cx="290.15" cy="34.16" r="0.86" fill="#111"/>
<circle cx="292.97" cy="34.17" r="0.86" fill="#111"/>
<circle cx="288.50" cy="34.17" r="0.86" fill="#111"/>
<circle cx="287.27" cy="35.88" r="0.86" fill="#111"/>
<circle cx="290.98" cy="35.86" r="0.86" fill="#111"/>
<circle cx="285.29" cy="37.47" r="0.86" fill="#111"/>
<circle cx="288.51" cy="37.55" r="0.86" fill="#111"/>
<circle cx="291.37" cy="37.48" r="0.86" fill="#111"/>
<circle cx="294.34" cy="37.57" r="0.86" fill="#111"/>
<circle cx="283.98" cy="37.56" r="0.86" fill="#111"/>
<circle cx="285.24" cy="38.92" r="0.86" fill="#111"/>
<circle cx="287.55" cy="39.21" r="0.86" fill="#111"/>
<circle cx="290.32" cy="38.94" r="0.86" fill="#111"/>
<circle cx="292.97" cy="39.19" r="0.86" fill="#111"/>
<circle cx="295.64" cy="39.23" r="0.86" fill="#111"/>
<circle cx="298.18" cy="39.28" r="0.86" fill="#111"/>
<circle cx="283.08" cy="39.06" r="0.86" fill="#111"/>
<circle cx="284.15" cy="40.42" r="0.86" fill="#111"/>
<circle cx="286.26" cy="40.41" r="0.86" fill="#111"/>
<circle cx="288.37" cy="40.68" r="0.86" fill="#111"/>
<circle cx="290.41" cy="40.49" r="0.86" fill="#111"/>
<circle cx="292.78" cy="40.61" r="0.86" fill="#111"/>
<circle cx="294.82" cy="40.56" r="0.86" fill="#111"/>
<circle cx="296.65" cy="40.71" r="0.86" fill="#111"/>
<circle cx="298.95" cy="40.59" r="0.86" fill="#111"/>
<circle cx="282.49" cy="40.79" r="0.86" fill="#111"/>
<circle cx="283.47" cy="41.89" r="0.86" fill="#111"/>
<circle cx="285.46" cy="41.75" r="0.86" fill="#111"/>
<circle cx="287.48" cy="42.04" r="0.86" fill="#111"/>
<circle cx="289.59" cy="41.80" r="0.86" fill="#111"/>
<circle cx="291.62" cy="41.70" r="0.86" fill="#111"/>
<circle cx="293.75" cy="41.80" r="0.86" fill="#111"/>
<circle cx="295.93" cy="41.87" r="0.86" fill="#111"/>
<circle cx="298.10" cy="41.84" r="0.86" fill="#111"/>
<circle cx="284.68" cy="43.36" r="0.86" fill="#111"/>
<circle cx="286.51" cy="43.33" r="0.86" fill="#111"/>
<circle cx="288.56" cy="43.00" r="0.86" fill="#111"/>
<circle cx="290.91" cy="43.10" r="0.86" fill="#111"/>
<circle cx="292.81" cy="43.09" r="0.86" fill="#111"/>
<circle cx="294.99" cy="43.06" r="0.86" fill="#111"/>
<circle cx="297.27" cy="43.07" r="0.86" fill="#111"/>
<circle cx="299.29" cy="43.31" r="0.86" fill="#111"/>
<circle cx="284.14" cy="44.38" r="0.86" fill="#111"/>
<circle cx="286.12" cy="44.60" r="0.86" fill="#111"/>
<circle cx="288.36" cy="44.52" r="0.86" fill="#111"/>
<circle cx="290.20" cy="44.36" r="0.86" fill="#111"/>
<circle cx="292.23" cy="44.49" r="0.86" fill="#111"/>
<circle cx="294.50" cy="44.50" r="0.86" fill="#111"/>
<circle cx="296.75" cy="44.30" r="0.86" fill="#111"/>
<circle cx="298.69" cy="44.53" r="0.86" fill="#111"/>
<circle cx="283.97" cy="45.98" r="0.86" fill="#111"/>
<circle cx="286.15" cy="45.85" r="0.86" fill="#111"/>
<circle cx="288.24" cy="45.87" r="0.86" fill="#111"/>
<circle cx="290.23" cy="45.99" r="0.86" fill="#111"/>
<circle cx="292.39" cy="45.96" r="0.86" fill="#111"/>
<circle cx="294.58" cy="45.85" r="0.86" fill="#111"/>
<circle cx="296.74" cy="45.75" r="0.86" fill="#111"/>
<circle cx="298.71" cy="45.91" r="0.86" fill="#111"/>
<circle cx="283.07" cy="47.23" r="0.86" fill="#111"/>
<circle cx="285.28" cy="47.06" r="0.86" fill="#111"/>
<circle cx="287.15" cy="47.10" r="0.86" fill="#111"/>
<circle cx="289.40" cy="47.22" r="0.86" fill="#111"/>
<circle cx="291.37" cy="47.02" r="0.86" fill="#111"/>
<circle cx="293.60" cy="47.21" r="0.86" fill="#111"/>
<circle cx="295.73" cy="47.25" r="0.86" fill="#111"/>
<circle cx="297.56" cy="47.02" r="0.86" fill="#111"/>
<circle cx="282.48" cy="47.27" r="0.86" fill="#111"/>
<circle cx="284.04" cy="48.44" r="0.86" fill="#111"/>
<circle cx="286.03" cy="48.48" r="0.86" fill="#111"/>
<circle cx="288.15" cy="48.29" r="0.86" fill="#111"/>
<circle cx="290.16" cy="48.51" r="0.86" fill="#111"/>
<circle cx="292.15" cy="48.21" r="0.86" fill="#111"/>
<circle cx="294.54" cy="48.46" r="0.86" fill="#111"/>
<circle cx="296.61" cy="48.51" r="0.86" fill="#111"/>
<circle cx="298.48" cy="48.32" r="0.86" fill="#111"/>
<circle cx="284.00" cy="49.87" r="0.86" fill="#111"/>
<circle cx="286.67" cy="49.52" r="0.86" fill="#111"/>
<circle cx="289.46" cy="49.73" r="0.86" fill="#111"/>
<circle cx="292.02" cy="49.51" r="0.86" fill="#111"/>
<circle cx="294.77" cy="49.88" r="0.86" fill="#111"/>
<circle cx="297.43" cy="49.66" r="0.86" fill="#111"/>
<circle cx="282.86" cy="49.58" r="0.86" fill="#111"/>
<circle cx="283.67" cy="51.05" r="0.86" fill="#111"/>
<circle cx="286.03" cy="51.35" r="0.86" fill="#111"/>
<circle cx="288.60" cy="51.29" r="0.86" fill="#111"/>
<circle cx="291.49" cy="51.07" r="0.86" fill="#111"/>
<circle cx="294.10" cy="51.29" r="0.86" fill="#111"/>
<circle cx="296.69" cy="51.03" r="0.86" fill="#111"/>
<circle cx="283.29" cy="51.18" r="0.86" fill="#111"/>
<circle cx="286.50" cy="52.50" r="0.86" fill="#111"/>
<circle cx="289.27" cy="52.83" r="0.86" fill="#111"/>
<circle cx="291.93" cy="52.79" r="0.86" fill="#111"/>
<circle cx="294.95" cy="52.69" r="0.86" fill="#111"/>
<circle cx="297.56" cy="52.73" r="0.86" fill="#111"/>
<circle cx="283.87" cy="52.56" r="0.86" fill="#111"/>
<circle cx="286.02" cy="54.27" r="0.86" fill="#111"/>
<circle cx="288.80" cy="54.48" r="0.86" fill="#111"/>
<circle cx="291.44" cy="54.22" r="0.86" fill="#111"/>
<circle cx="294.32" cy="54.38" r="0.86" fill="#111"/>
<circle cx="296.78" cy="54.34" r="0.86" fill="#111"/>
<circle cx="283.93" cy="54.34" r="0.86" fill="#111"/>
<circle cx="285.80" cy="56.17" r="0.86" fill="#111"/>
<circle cx="288.76" cy="56.22" r="0.86" fill="#111"/>
<circle cx="291.15" cy="56.01" r="0.86" fill="#111"/>
<circle cx="294.13" cy="56.23" r="0.86" fill="#111"/>
<circle cx="284.82" cy="56.23" r="0.86" fill="#111"/>
<circle cx="290.20" cy="58.40" r="0.86" fill="#111"/>
<circle cx="288.46" cy="60.84" r="0.86" fill="#111"/>
<circle cx="291.53" cy="60.87" r="0.86" fill="#111"/>
<circle cx="294.19" cy="60.72" r="0.86" fill="#111"/>
<circle cx="297.13" cy="60.80" r="0.86" fill="#111"/>
<circle cx="289.57" cy="62.49" r="0.86" fill="#111"/>
<circle cx="292.30" cy="62.60" r="0.86" fill="#111"/>
<circle cx="295.28" cy="62.34" r="0.86" fill="#111"/>
<circle cx="286.91" cy="62.39" r="0.86" fill="#111"/>
<circle cx="289.94" cy="64.19" r="0.86" fill="#111"/>
<circle cx="293.30" cy="64.08" r="0.86" fill="#111"/>
<circle cx="289.16" cy="65.96" r="0.86" fill="#111"/>
<circle cx="292.49" cy="65.82" r="0.86" fill="#111"/>
<circle cx="290.75" cy="69.94" r="0.86" fill="#111"/>
<circle cx="290.42" cy="71.66" r="0.86" fill="#111"/>
<circle cx="293.04" cy="71.81" r="0.86" fill="#111"/>
<circle cx="290.12" cy="73.80" r="0.86" fill="#111"/>
<circle cx="290.66" cy="75.41" r="0.86" fill="#111"/>
<circle cx="293.53" cy="75.41" r="0.86" fill="#111"/>
<circle cx="288.69" cy="75.20" r="0.86" fill="#111"/>
<circle cx="289.05" cy="76.92" r="0.86" fill="#111"/>
<circle cx="292.26" cy="77.08" r="0.86" fill="#111"/>
<circle cx="289.27" cy="76.93" r="0.86" fill="#111"/>
<circle cx="290.78" cy="78.70" r="0.86" fill="#111"/>
<circle cx="294.15" cy="78.98" r="0.86" fill="#111"/>
<circle cx="288.46" cy="78.78" r="0.86" fill="#111"/>
<line x1="281.20" y1="46.50" x2="300.40" y2="46.50" stroke="#1a1a1a" stroke-width="1.3" />
<circle cx="319.10" cy="43.10" r="0.86" fill="#111"/>
<circle cx="319.10" cy="47.10" r="0.86" fill="#111"/>
<circle cx="317.00" cy="49.00" r="0.86" fill="#111"/>
<circle cx="319.30" cy="49.70" r="0.86" fill="#111"/>
<circle cx="321.30" cy="49.00" r="0.86" fill="#111"/>
<circle cx="317.00" cy="53.30" r="0.86" fill="#111"/>
<circle cx="319.30" cy="53.80" r="0.86" fill="#111"/>
<circle cx="321.10" cy="54.30" r="0.86" fill="#111"/>
<circle cx="323.90" cy="52.20" r="0.86" fill="#111"/>
<circle cx="313.03" cy="55.62" r="0.86" fill="#111"/>
<circle cx="315.80" cy="55.96" r="0.86" fill="#111"/>
<circle cx="318.71" cy="55.62" r="0.86" fill="#111"/>
<circle cx="321.38" cy="55.86" r="0.86" fill="#111"/>
<circle cx="323.84" cy="55.66" r="0.86" fill="#111"/>
<circle cx="315.75" cy="57.44" r="0.86" fill="#111"/>
<circle cx="318.62" cy="57.33" r="0.86" fill="#111"/>
<circle cx="321.58" cy="57.39" r="0.86" fill="#111"/>
<circle cx="324.57" cy="57.26" r="0.86" fill="#111"/>
<circle cx="313.99" cy="58.81" r="0.86" fill="#111"/>
<circle cx="316.95" cy="59.17" r="0.86" fill="#111"/>
<circle cx="320.18" cy="58.86" r="0.86" fill="#111"/>
<circle cx="322.82" cy="59.17" r="0.86" fill="#111"/>
<circle cx="326.00" cy="58.98" r="0.86" fill="#111"/>
<circle cx="312.23" cy="58.99" r="0.86" fill="#111"/>
<circle cx="312.97" cy="60.49" r="0.86" fill="#111"/>
<circle cx="315.15" cy="60.55" r="0.86" fill="#111"/>
<circle cx="317.40" cy="60.26" r="0.86" fill="#111"/>
<circle cx="319.71" cy="60.33" r="0.86" fill="#111"/>
<circle cx="321.71" cy="60.33" r="0.86" fill="#111"/>
<circle cx="323.70" cy="60.59" r="0.86" fill="#111"/>
<circle cx="326.16" cy="60.47" r="0.86" fill="#111"/>
<circle cx="311.79" cy="60.31" r="0.86" fill="#111"/>
<circle cx="312.29" cy="61.90" r="0.86" fill="#111"/>
<circle cx="313.83" cy="61.62" r="0.86" fill="#111"/>
<circle cx="315.71" cy="61.79" r="0.86" fill="#111"/>
<circle cx="317.98" cy="61.51" r="0.86" fill="#111"/>
<circle cx="319.63" cy="61.56" r="0.86" fill="#111"/>
<circle cx="321.72" cy="61.71" r="0.86" fill="#111"/>
<circle cx="323.46" cy="61.86" r="0.86" fill="#111"/>
<circle cx="325.42" cy="61.56" r="0.86" fill="#111"/>
<circle cx="311.71" cy="61.78" r="0.86" fill="#111"/>
<circle cx="311.82" cy="63.00" r="0.86" fill="#111"/>
<circle cx="313.59" cy="63.04" r="0.86" fill="#111"/>
<circle cx="315.75" cy="63.03" r="0.86" fill="#111"/>
<circle cx="317.38" cy="63.09" r="0.86" fill="#111"/>
<circle cx="319.57" cy="62.82" r="0.86" fill="#111"/>
<circle cx="321.34" cy="63.14" r="0.86" fill="#111"/>
<circle cx="323.32" cy="62.81" r="0.86" fill="#111"/>
<circle cx="325.24" cy="63.15" r="0.86" fill="#111"/>
<circle cx="311.28" cy="63.13" r="0.86" fill="#111"/>
<circle cx="312.14" cy="64.10" r="0.86" fill="#111"/>
<circle cx="313.98" cy="64.31" r="0.86" fill="#111"/>
<circle cx="315.98" cy="64.43" r="0.86" fill="#111"/>
<circle cx="317.73" cy="64.38" r="0.86" fill="#111"/>
<circle cx="319.80" cy="64.12" r="0.86" fill="#111"/>
<circle cx="321.78" cy="64.30" r="0.86" fill="#111"/>
<circle cx="323.51" cy="64.31" r="0.86" fill="#111"/>
<circle cx="325.58" cy="64.19" r="0.86" fill="#111"/>
<circle cx="311.24" cy="64.20" r="0.86" fill="#111"/>
<circle cx="313.03" cy="65.48" r="0.86" fill="#111"/>
<circle cx="314.89" cy="65.63" r="0.86" fill="#111"/>
<circle cx="316.83" cy="65.44" r="0.86" fill="#111"/>
<circle cx="318.74" cy="65.42" r="0.86" fill="#111"/>
<circle cx="320.55" cy="65.60" r="0.86" fill="#111"/>
<circle cx="322.30" cy="65.56" r="0.86" fill="#111"/>
<circle cx="324.39" cy="65.74" r="0.86" fill="#111"/>
<circle cx="326.28" cy="65.70" r="0.86" fill="#111"/>
<circle cx="311.53" cy="65.78" r="0.86" fill="#111"/>
<circle cx="312.15" cy="66.86" r="0.86" fill="#111"/>
<circle cx="314.15" cy="66.84" r="0.86" fill="#111"/>
<circle cx="315.87" cy="66.87" r="0.86" fill="#111"/>
<circle cx="317.96" cy="67.07" r="0.86" fill="#111"/>
<circle cx="319.88" cy="66.72" r="0.86" fill="#111"/>
<circle cx="321.82" cy="67.07" r="0.86" fill="#111"/>
<circle cx="323.51" cy="66.95" r="0.86" fill="#111"/>
<circle cx="325.45" cy="66.73" r="0.86" fill="#111"/>
<circle cx="311.40" cy="66.71" r="0.86" fill="#111"/>
<circle cx="311.84" cy="68.25" r="0.86" fill="#111"/>
<circle cx="313.72" cy="68.35" r="0.86" fill="#111"/>
<circle cx="315.52" cy="68.11" r="0.86" fill="#111"/>
<circle cx="317.27" cy="68.22" r="0.86" fill="#111"/>
<circle cx="319.31" cy="68.10" r="0.86" fill="#111"/>
<circle cx="321.14" cy="68.38" r="0.86" fill="#111"/>
<circle cx="322.99" cy="68.26" r="0.86" fill="#111"/>
<circle cx="325.00" cy="68.38" r="0.86" fill="#111"/>
<circle cx="312.39" cy="69.36" r="0.86" fill="#111"/>
<circle cx="314.13" cy="69.42" r="0.86" fill="#111"/>
<circle cx="316.09" cy="69.40" r="0.86" fill="#111"/>
<circle cx="318.09" cy="69.64" r="0.86" fill="#111"/>
<circle cx="320.00" cy="69.56" r="0.86" fill="#111"/>
<circle cx="321.96" cy="69.48" r="0.86" fill="#111"/>
<circle cx="323.82" cy="69.49" r="0.86" fill="#111"/>
<circle cx="325.57" cy="69.39" r="0.86" fill="#111"/>
<circle cx="311.36" cy="69.53" r="0.86" fill="#111"/>
<circle cx="311.32" cy="70.82" r="0.86" fill="#111"/>
<circle cx="313.24" cy="71.00" r="0.86" fill="#111"/>
<circle cx="315.33" cy="70.66" r="0.86" fill="#111"/>
<circle cx="317.27" cy="70.78" r="0.86" fill="#111"/>
<circle cx="318.98" cy="70.78" r="0.86" fill="#111"/>
<circle cx="320.77" cy="70.69" r="0.86" fill="#111"/>
<circle cx="322.92" cy="70.66" r="0.86" fill="#111"/>
<circle cx="324.66" cy="70.87" r="0.86" fill="#111"/>
<circle cx="311.54" cy="70.93" r="0.86" fill="#111"/>
<circle cx="312.49" cy="72.09" r="0.86" fill="#111"/>
<circle cx="314.37" cy="72.27" r="0.86" fill="#111"/>
<circle cx="316.33" cy="71.90" r="0.86" fill="#111"/>
<circle cx="318.12" cy="72.10" r="0.86" fill="#111"/>
<circle cx="320.01" cy="72.07" r="0.86" fill="#111"/>
<circle cx="322.03" cy="72.14" r="0.86" fill="#111"/>
<circle cx="323.76" cy="72.08" r="0.86" fill="#111"/>
<circle cx="325.60" cy="72.06" r="0.86" fill="#111"/>
<circle cx="312.57" cy="73.54" r="0.86" fill="#111"/>
<circle cx="314.33" cy="73.27" r="0.86" fill="#111"/>
<circle cx="316.11" cy="73.43" r="0.86" fill="#111"/>
<circle cx="317.99" cy="73.57" r="0.86" fill="#111"/>
<circle cx="320.19" cy="73.54" r="0.86" fill="#111"/>
<circle cx="321.84" cy="73.37" r="0.86" fill="#111"/>
<circle cx="323.66" cy="73.22" r="0.86" fill="#111"/>
<circle cx="325.75" cy="73.57" r="0.86" fill="#111"/>
<circle cx="311.42" cy="73.60" r="0.86" fill="#111"/>
<circle cx="312.34" cy="74.64" r="0.86" fill="#111"/>
<circle cx="314.22" cy="74.88" r="0.86" fill="#111"/>
<circle cx="316.19" cy="74.54" r="0.86" fill="#111"/>
<circle cx="318.04" cy="74.72" r="0.86" fill="#111"/>
<circle cx="320.13" cy="74.89" r="0.86" fill="#111"/>
<circle cx="321.86" cy="74.75" r="0.86" fill="#111"/>
<circle cx="323.72" cy="74.71" r="0.86" fill="#111"/>
<circle cx="325.55" cy="74.63" r="0.86" fill="#111"/>
<circle cx="313.10" cy="76.16" r="0.86" fill="#111"/>
<circle cx="315.29" cy="76.20" r="0.86" fill="#111"/>
<circle cx="317.03" cy="75.86" r="0.86" fill="#111"/>
<circle cx="318.96" cy="76.00" r="0.86" fill="#111"/>
<circle cx="320.73" cy="76.05" r="0.86" fill="#111"/>
<circle cx="322.70" cy="76.20" r="0.86" fill="#111"/>
<circle cx="324.47" cy="75.96" r="0.86" fill="#111"/>
<circle cx="326.48" cy="76.08" r="0.86" fill="#111"/>
<circle cx="311.44" cy="77.37" r="0.86" fill="#111"/>
<circle cx="313.31" cy="77.32" r="0.86" fill="#111"/>
<circle cx="315.27" cy="77.31" r="0.86" fill="#111"/>
<circle cx="317.14" cy="77.26" r="0.86" fill="#111"/>
<circle cx="318.87" cy="77.40" r="0.86" fill="#111"/>
<circle cx="320.75" cy="77.17" r="0.86" fill="#111"/>
<circle cx="322.94" cy="77.35" r="0.86" fill="#111"/>
<circle cx="324.53" cy="77.10" r="0.86" fill="#111"/>
<circle cx="311.33" cy="77.39" r="0.86" fill="#111"/>
<circle cx="311.91" cy="78.76" r="0.86" fill="#111"/>
<circle cx="313.91" cy="78.58" r="0.86" fill="#111"/>
<circle cx="315.69" cy="78.76" r="0.86" fill="#111"/>
<circle cx="317.96" cy="78.58" r="0.86" fill="#111"/>
<circle cx="319.57" cy="78.42" r="0.86" fill="#111"/>
<circle cx="321.71" cy="78.53" r="0.86" fill="#111"/>
<circle cx="323.60" cy="78.52" r="0.86" fill="#111"/>
<circle cx="325.55" cy="78.60" r="0.86" fill="#111"/>
<circle cx="311.30" cy="78.56" r="0.86" fill="#111"/>
<circle cx="313.11" cy="79.89" r="0.86" fill="#111"/>
<circle cx="315.03" cy="79.77" r="0.86" fill="#111"/>
<circle cx="317.18" cy="80.09" r="0.86" fill="#111"/>
<circle cx="319.50" cy="79.75" r="0.86" fill="#111"/>
<circle cx="321.60" cy="79.86" r="0.86" fill="#111"/>
<circle cx="323.67" cy="80.03" r="0.86" fill="#111"/>
<circle cx="325.88" cy="79.78" r="0.86" fill="#111"/>
<circle cx="311.30" cy="79.71" r="0.86" fill="#111"/>
<circle cx="312.90" cy="81.14" r="0.86" fill="#111"/>
<circle cx="315.53" cy="81.15" r="0.86" fill="#111"/>
<circle cx="318.12" cy="81.42" r="0.86" fill="#111"/>
<circle cx="320.51" cy="81.39" r="0.86" fill="#111"/>
<circle cx="323.33" cy="81.18" r="0.86" fill="#111"/>
<circle cx="325.73" cy="81.19" r="0.86" fill="#111"/>
<circle cx="310.95" cy="81.38" r="0.86" fill="#111"/>
<circle cx="314.34" cy="82.70" r="0.86" fill="#111"/>
<circle cx="317.33" cy="82.95" r="0.86" fill="#111"/>
<circle cx="320.50" cy="82.82" r="0.86" fill="#111"/>
<circle cx="323.65" cy="82.75" r="0.86" fill="#111"/>
<circle cx="316.77" cy="84.83" r="0.86" fill="#111"/>
<circle cx="320.02" cy="84.93" r="0.86" fill="#111"/>
<circle cx="322.79" cy="85.02" r="0.86" fill="#111"/>
<circle cx="315.90" cy="86.62" r="0.86" fill="#111"/>
<circle cx="320.52" cy="86.59" r="0.86" fill="#111"/>
<circle cx="318.80" cy="88.50" r="0.86" fill="#111"/>
<circle cx="315.58" cy="90.96" r="0.86" fill="#111"/>
<circle cx="318.31" cy="90.94" r="0.86" fill="#111"/>
<circle cx="320.60" cy="90.61" r="0.86" fill="#111"/>
<circle cx="319.17" cy="92.34" r="0.86" fill="#111"/>
<circle cx="345.45" cy="34.14" r="1.1" fill="#111"/>
<circle cx="347.99" cy="33.63" r="1.1" fill="#111"/>
<circle cx="349.78" cy="33.63" r="1.1" fill="#111"/>
<circle cx="343.67" cy="36.18" r="1.1" fill="#111"/>
<circle cx="346.72" cy="36.18" r="1.1" fill="#111"/>
<circle cx="349.27" cy="36.69" r="1.1" fill="#111"/>
<circle cx="341.63" cy="38.72" r="1.1" fill="#111"/>
<circle cx="346.21" cy="38.72" r="1.1" fill="#111"/>
<circle cx="348.76" cy="39.23" r="1.1" fill="#111"/>
<circle cx="340.36" cy="41.27" r="1.1" fill="#111"/>
<circle cx="342.91" cy="41.27" r="1.1" fill="#111"/>
<circle cx="346.72" cy="41.78" r="1.1" fill="#111"/>
<circle cx="349.27" cy="41.78" r="1.1" fill="#111"/>
<circle cx="345.45" cy="44.32" r="1.1" fill="#111"/>
<circle cx="347.99" cy="43.81" r="1.1" fill="#111"/>
<circle cx="339.09" cy="45.85" r="1.1" fill="#111"/>
<circle cx="342.91" cy="46.36" r="1.1" fill="#111"/>
<circle cx="346.21" cy="46.87" r="1.1" fill="#111"/>
<circle cx="349.78" cy="46.87" r="1.1" fill="#111"/>
<circle cx="341.63" cy="48.90" r="1.1" fill="#111"/>
<circle cx="345.45" cy="49.41" r="1.1" fill="#111"/>
<circle cx="347.99" cy="49.41" r="1.1" fill="#111"/>
<circle cx="344.18" cy="51.45" r="1.1" fill="#111"/>
<circle cx="348.76" cy="50.94" r="1.1" fill="#111"/>
<circle cx="347.99" cy="63.66" r="1.1" fill="#111"/>
<circle cx="347.23" cy="67.98" r="1.1" fill="#111"/>
<circle cx="346.21" cy="71.80" r="1.1" fill="#111"/>
<circle cx="347.23" cy="73.07" r="1.1" fill="#111"/>
<circle cx="346.72" cy="78.93" r="1.1" fill="#111"/>
<line x1="338.60" y1="44.60" x2="357.40" y2="44.60" stroke="#1a1a1a" stroke-width="1.3" />
<circle cx="374.20" cy="34.91" r="1.1" fill="#111"/>
<circle cx="375.98" cy="36.18" r="1.1" fill="#111"/>
<circle cx="377.77" cy="39.99" r="1.1" fill="#111"/>
<circle cx="379.80" cy="41.78" r="1.1" fill="#111"/>
<circle cx="373.44" cy="44.32" r="1.1" fill="#111"/>
<circle cx="376.75" cy="44.32" r="1.1" fill="#111"/>
<circle cx="379.29" cy="45.85" r="1.1" fill="#111"/>
<circle cx="372.17" cy="46.36" r="1.1" fill="#111"/>
<circle cx="375.22" cy="47.63" r="1.1" fill="#111"/>
<circle cx="377.77" cy="48.39" r="1.1" fill="#111"/>
<circle cx="374.20" cy="56.53" r="1.1" fill="#111"/>
<circle cx="375.98" cy="57.81" r="1.1" fill="#111"/>
<circle cx="377.77" cy="61.62" r="1.1" fill="#111"/>
<circle cx="375.98" cy="63.66" r="1.1" fill="#111"/>
<line x1="367.00" y1="46.90" x2="386.00" y2="46.90" stroke="#1a1a1a" stroke-width="1.3" />
<text x="288.00" y="108.30" font-size="7.0" text-anchor="middle" font-weight="bold" fill="#1a1a1a" textLength="9.600000000000023" lengthAdjust="spacingAndGlyphs" stroke="#1a1a1a" stroke-width="0.36">ND</text>
<text x="288.60" y="117.20" font-size="7.0" text-anchor="middle" font-weight="bold" fill="#1a1a1a" textLength="22.80000000000001" lengthAdjust="spacingAndGlyphs" stroke="#1a1a1a" stroke-width="0.36">(<tspan font-style="italic">n</tspan>=172)</text>
<text x="318.45" y="108.30" font-size="7.0" text-anchor="middle" font-weight="bold" fill="#1a1a1a" textLength="7.899999999999977" lengthAdjust="spacingAndGlyphs" stroke="#1a1a1a" stroke-width="0.36">CR</text>
<text x="318.70" y="117.20" font-size="7.0" text-anchor="middle" font-weight="bold" fill="#1a1a1a" textLength="22.80000000000001" lengthAdjust="spacingAndGlyphs" stroke="#1a1a1a" stroke-width="0.36">(<tspan font-style="italic">n</tspan>=206)</text>
<text x="347.50" y="108.30" font-size="7.0" text-anchor="middle" font-weight="bold" fill="#1a1a1a" textLength="27.600000000000023" lengthAdjust="spacingAndGlyphs" stroke="#1a1a1a" stroke-width="0.36">Relapsed</text>
<text x="349.05" y="117.20" font-size="7.0" text-anchor="middle" font-weight="bold" fill="#1a1a1a" textLength="19.69999999999999" lengthAdjust="spacingAndGlyphs" stroke="#1a1a1a" stroke-width="0.36">(<tspan font-style="italic">n</tspan>=27)</text>
<text x="386.85" y="108.20" font-size="7.0" text-anchor="middle" font-weight="bold" fill="#1a1a1a" textLength="31.69999999999999" lengthAdjust="spacingAndGlyphs" stroke="#1a1a1a" stroke-width="0.36">Refractory</text>
<text x="383.90" y="116.90" font-size="7.0" text-anchor="middle" font-weight="bold" fill="#1a1a1a" textLength="20.19999999999999" lengthAdjust="spacingAndGlyphs" stroke="#1a1a1a" stroke-width="0.36">(<tspan font-style="italic">n</tspan>=17)</text>
<text x="398.90" y="12.50" font-size="10.8" text-anchor="start" font-weight="bold" fill="#1a1a1a" textLength="7.100000000000023" lengthAdjust="spacingAndGlyphs" stroke="#1a1a1a" stroke-width="0.45">D</text>
<line x1="410.00" y1="18.90" x2="410.00" y2="94.20" stroke="#2a2a2a" stroke-width="0.95" />
<line x1="407.80" y1="18.90" x2="410.00" y2="18.90" stroke="#2a2a2a" stroke-width="0.8" />
<text x="407.30" y="20.52" font-size="4.5" text-anchor="end" font-weight="bold" fill="#1a1a1a" textLength="12.13" lengthAdjust="spacingAndGlyphs" stroke="#1a1a1a" stroke-width="0.12">10000</text>
<line x1="407.80" y1="31.45" x2="410.00" y2="31.45" stroke="#2a2a2a" stroke-width="0.8" />
<text x="407.30" y="33.07" font-size="4.5" text-anchor="end" font-weight="bold" fill="#1a1a1a" textLength="9.71" lengthAdjust="spacingAndGlyphs" stroke="#1a1a1a" stroke-width="0.12">1000</text>
<line x1="407.80" y1="44.00" x2="410.00" y2="44.00" stroke="#2a2a2a" stroke-width="0.8" />
<text x="407.30" y="45.62" font-size="4.5" text-anchor="end" font-weight="bold" fill="#1a1a1a" textLength="7.28" lengthAdjust="spacingAndGlyphs" stroke="#1a1a1a" stroke-width="0.12">100</text>
<line x1="407.80" y1="56.55" x2="410.00" y2="56.55" stroke="#2a2a2a" stroke-width="0.8" />
<text x="407.30" y="58.17" font-size="4.5" text-anchor="end" font-weight="bold" fill="#1a1a1a" textLength="4.85" lengthAdjust="spacingAndGlyphs" stroke="#1a1a1a" stroke-width="0.12">10</text>
<line x1="407.80" y1="69.10" x2="410.00" y2="69.10" stroke="#2a2a2a" stroke-width="0.8" />
<text x="407.30" y="70.72" font-size="4.5" text-anchor="end" font-weight="bold" fill="#1a1a1a" textLength="2.43" lengthAdjust="spacingAndGlyphs" stroke="#1a1a1a" stroke-width="0.12">1</text>
<line x1="407.80" y1="81.65" x2="410.00" y2="81.65" stroke="#2a2a2a" stroke-width="0.8" />
<text x="407.30" y="83.27" font-size="4.5" text-anchor="end" font-weight="bold" fill="#1a1a1a" textLength="6.07" lengthAdjust="spacingAndGlyphs" stroke="#1a1a1a" stroke-width="0.12">0.1</text>
<line x1="407.80" y1="94.20" x2="410.00" y2="94.20" stroke="#2a2a2a" stroke-width="0.8" />
<text x="407.30" y="95.82" font-size="4.5" text-anchor="end" font-weight="bold" fill="#1a1a1a" textLength="8.49" lengthAdjust="spacingAndGlyphs" stroke="#1a1a1a" stroke-width="0.12">0.01</text>
<line x1="410.00" y1="94.20" x2="504.00" y2="94.20" stroke="#2a2a2a" stroke-width="0.95" />
<line x1="434.50" y1="93.40" x2="434.50" y2="96.00" stroke="#2a2a2a" stroke-width="0.8" />
<line x1="480.30" y1="93.40" x2="480.30" y2="96.00" stroke="#2a2a2a" stroke-width="0.8" />
<line x1="434.00" y1="42.00" x2="479.80" y2="42.00" stroke="#333" stroke-width="1.7" />
<path d="M453.30,34.05L453.30,37.35M451.87,34.88L454.73,36.53M451.87,36.53L454.73,34.88" stroke="#111" stroke-width="0.9" stroke-linecap="butt" fill="none"/>
<path d="M456.80,34.05L456.80,37.35M455.37,34.88L458.23,36.53M455.37,36.53L458.23,34.88" stroke="#111" stroke-width="0.9" stroke-linecap="butt" fill="none"/>
<path d="M460.30,34.05L460.30,37.35M458.87,34.88L461.73,36.53M458.87,36.53L461.73,34.88" stroke="#111" stroke-width="0.9" stroke-linecap="butt" fill="none"/>
<circle cx="435.47" cy="52.68" r="0.86" fill="#111"/>
<circle cx="433.54" cy="54.04" r="0.86" fill="#111"/>
<circle cx="436.17" cy="53.95" r="0.86" fill="#111"/>
<circle cx="432.50" cy="55.69" r="0.86" fill="#111"/>
<circle cx="435.61" cy="55.46" r="0.86" fill="#111"/>
<circle cx="431.80" cy="57.12" r="0.86" fill="#111"/>
<circle cx="434.81" cy="57.34" r="0.86" fill="#111"/>
<circle cx="431.49" cy="57.10" r="0.86" fill="#111"/>
<circle cx="430.91" cy="58.83" r="0.86" fill="#111"/>
<circle cx="434.02" cy="58.52" r="0.86" fill="#111"/>
<circle cx="437.15" cy="58.52" r="0.86" fill="#111"/>
<circle cx="428.89" cy="60.37" r="0.86" fill="#111"/>
<circle cx="431.71" cy="60.28" r="0.86" fill="#111"/>
<circle cx="434.85" cy="60.33" r="0.86" fill="#111"/>
<circle cx="437.46" cy="60.38" r="0.86" fill="#111"/>
<circle cx="428.47" cy="60.28" r="0.86" fill="#111"/>
<circle cx="428.44" cy="61.52" r="0.86" fill="#111"/>
<circle cx="431.35" cy="61.70" r="0.86" fill="#111"/>
<circle cx="434.15" cy="61.80" r="0.86" fill="#111"/>
<circle cx="437.30" cy="61.82" r="0.86" fill="#111"/>
<circle cx="440.15" cy="61.89" r="0.86" fill="#111"/>
<circle cx="426.18" cy="63.24" r="0.86" fill="#111"/>
<circle cx="428.84" cy="63.22" r="0.86" fill="#111"/>
<circle cx="431.64" cy="63.37" r="0.86" fill="#111"/>
<circle cx="434.05" cy="63.31" r="0.86" fill="#111"/>
<circle cx="436.93" cy="63.24" r="0.86" fill="#111"/>
<circle cx="439.51" cy="63.16" r="0.86" fill="#111"/>
<circle cx="441.89" cy="63.43" r="0.86" fill="#111"/>
<circle cx="426.84" cy="64.84" r="0.86" fill="#111"/>
<circle cx="429.75" cy="64.93" r="0.86" fill="#111"/>
<circle cx="432.42" cy="64.74" r="0.86" fill="#111"/>
<circle cx="435.20" cy="64.71" r="0.86" fill="#111"/>
<circle cx="438.32" cy="64.78" r="0.86" fill="#111"/>
<circle cx="441.03" cy="64.79" r="0.86" fill="#111"/>
<circle cx="424.95" cy="66.50" r="0.86" fill="#111"/>
<circle cx="427.56" cy="66.39" r="0.86" fill="#111"/>
<circle cx="430.34" cy="66.14" r="0.86" fill="#111"/>
<circle cx="432.88" cy="66.18" r="0.86" fill="#111"/>
<circle cx="435.29" cy="66.47" r="0.86" fill="#111"/>
<circle cx="438.13" cy="66.47" r="0.86" fill="#111"/>
<circle cx="440.56" cy="66.20" r="0.86" fill="#111"/>
<circle cx="443.06" cy="66.41" r="0.86" fill="#111"/>
<circle cx="424.12" cy="66.17" r="0.86" fill="#111"/>
<circle cx="422.82" cy="67.91" r="0.86" fill="#111"/>
<circle cx="425.79" cy="67.73" r="0.86" fill="#111"/>
<circle cx="428.57" cy="67.73" r="0.86" fill="#111"/>
<circle cx="431.21" cy="67.75" r="0.86" fill="#111"/>
<circle cx="433.82" cy="67.62" r="0.86" fill="#111"/>
<circle cx="436.72" cy="67.93" r="0.86" fill="#111"/>
<circle cx="439.58" cy="67.98" r="0.86" fill="#111"/>
<circle cx="442.16" cy="67.66" r="0.86" fill="#111"/>
<circle cx="444.94" cy="67.63" r="0.86" fill="#111"/>
<circle cx="421.86" cy="68.94" r="0.86" fill="#111"/>
<circle cx="423.79" cy="68.98" r="0.86" fill="#111"/>
<circle cx="425.75" cy="69.24" r="0.86" fill="#111"/>
<circle cx="428.20" cy="69.07" r="0.86" fill="#111"/>
<circle cx="430.29" cy="69.11" r="0.86" fill="#111"/>
<circle cx="432.30" cy="69.08" r="0.86" fill="#111"/>
<circle cx="434.63" cy="69.26" r="0.86" fill="#111"/>
<circle cx="436.56" cy="69.08" r="0.86" fill="#111"/>
<circle cx="438.72" cy="68.98" r="0.86" fill="#111"/>
<circle cx="440.85" cy="69.08" r="0.86" fill="#111"/>
<circle cx="443.22" cy="69.25" r="0.86" fill="#111"/>
<circle cx="445.38" cy="69.15" r="0.86" fill="#111"/>
<circle cx="447.15" cy="69.17" r="0.86" fill="#111"/>
<circle cx="420.12" cy="69.13" r="0.86" fill="#111"/>
<circle cx="422.16" cy="70.34" r="0.86" fill="#111"/>
<circle cx="424.19" cy="70.28" r="0.86" fill="#111"/>
<circle cx="426.49" cy="70.23" r="0.86" fill="#111"/>
<circle cx="428.60" cy="70.43" r="0.86" fill="#111"/>
<circle cx="430.80" cy="70.43" r="0.86" fill="#111"/>
<circle cx="432.78" cy="70.27" r="0.86" fill="#111"/>
<circle cx="435.09" cy="70.24" r="0.86" fill="#111"/>
<circle cx="437.11" cy="70.24" r="0.86" fill="#111"/>
<circle cx="439.25" cy="70.40" r="0.86" fill="#111"/>
<circle cx="441.37" cy="70.43" r="0.86" fill="#111"/>
<circle cx="443.63" cy="70.44" r="0.86" fill="#111"/>
<circle cx="445.72" cy="70.23" r="0.86" fill="#111"/>
<circle cx="448.04" cy="70.42" r="0.86" fill="#111"/>
<circle cx="420.30" cy="70.25" r="0.86" fill="#111"/>
<circle cx="422.45" cy="71.66" r="0.86" fill="#111"/>
<circle cx="424.64" cy="71.73" r="0.86" fill="#111"/>
<circle cx="426.45" cy="71.81" r="0.86" fill="#111"/>
<circle cx="428.63" cy="71.65" r="0.86" fill="#111"/>
<circle cx="430.91" cy="71.59" r="0.86" fill="#111"/>
<circle cx="433.09" cy="71.67" r="0.86" fill="#111"/>
<circle cx="435.20" cy="71.85" r="0.86" fill="#111"/>
<circle cx="437.45" cy="71.85" r="0.86" fill="#111"/>
<circle cx="439.52" cy="71.64" r="0.86" fill="#111"/>
<circle cx="441.64" cy="71.83" r="0.86" fill="#111"/>
<circle cx="443.65" cy="71.79" r="0.86" fill="#111"/>
<circle cx="445.93" cy="71.52" r="0.86" fill="#111"/>
<circle cx="447.82" cy="71.72" r="0.86" fill="#111"/>
<circle cx="425.97" cy="73.00" r="0.86" fill="#111"/>
<circle cx="428.63" cy="73.24" r="0.86" fill="#111"/>
<circle cx="431.23" cy="72.91" r="0.86" fill="#111"/>
<circle cx="434.25" cy="72.97" r="0.86" fill="#111"/>
<circle cx="436.79" cy="73.17" r="0.86" fill="#111"/>
<circle cx="439.47" cy="73.25" r="0.86" fill="#111"/>
<circle cx="442.43" cy="73.22" r="0.86" fill="#111"/>
<circle cx="423.51" cy="73.04" r="0.86" fill="#111"/>
<circle cx="423.20" cy="74.41" r="0.86" fill="#111"/>
<circle cx="425.73" cy="74.67" r="0.86" fill="#111"/>
<circle cx="428.12" cy="74.46" r="0.86" fill="#111"/>
<circle cx="430.61" cy="74.75" r="0.86" fill="#111"/>
<circle cx="433.01" cy="74.53" r="0.86" fill="#111"/>
<circle cx="435.86" cy="74.64" r="0.86" fill="#111"/>
<circle cx="438.10" cy="74.54" r="0.86" fill="#111"/>
<circle cx="440.79" cy="74.56" r="0.86" fill="#111"/>
<circle cx="421.61" cy="75.71" r="0.86" fill="#111"/>
<circle cx="424.61" cy="75.72" r="0.86" fill="#111"/>
<circle cx="427.23" cy="75.81" r="0.86" fill="#111"/>
<circle cx="429.90" cy="75.80" r="0.86" fill="#111"/>
<circle cx="432.66" cy="76.08" r="0.86" fill="#111"/>
<circle cx="435.21" cy="75.92" r="0.86" fill="#111"/>
<circle cx="438.29" cy="76.01" r="0.86" fill="#111"/>
<circle cx="440.93" cy="75.85" r="0.86" fill="#111"/>
<circle cx="443.74" cy="76.05" r="0.86" fill="#111"/>
<circle cx="420.77" cy="75.82" r="0.86" fill="#111"/>
<circle cx="422.68" cy="77.14" r="0.86" fill="#111"/>
<circle cx="425.11" cy="77.02" r="0.86" fill="#111"/>
<circle cx="427.59" cy="77.40" r="0.86" fill="#111"/>
<circle cx="430.13" cy="77.10" r="0.86" fill="#111"/>
<circle cx="432.64" cy="77.05" r="0.86" fill="#111"/>
<circle cx="435.37" cy="77.18" r="0.86" fill="#111"/>
<circle cx="437.77" cy="77.12" r="0.86" fill="#111"/>
<circle cx="440.09" cy="77.12" r="0.86" fill="#111"/>
<circle cx="442.87" cy="77.22" r="0.86" fill="#111"/>
<circle cx="445.24" cy="77.37" r="0.86" fill="#111"/>
<circle cx="422.80" cy="78.89" r="0.86" fill="#111"/>
<circle cx="425.57" cy="78.67" r="0.86" fill="#111"/>
<circle cx="427.97" cy="78.69" r="0.86" fill="#111"/>
<circle cx="430.75" cy="78.60" r="0.86" fill="#111"/>
<circle cx="433.39" cy="78.61" r="0.86" fill="#111"/>
<circle cx="436.10" cy="78.66" r="0.86" fill="#111"/>
<circle cx="438.94" cy="78.85" r="0.86" fill="#111"/>
<circle cx="441.47" cy="78.79" r="0.86" fill="#111"/>
<circle cx="444.32" cy="78.53" r="0.86" fill="#111"/>
<circle cx="421.35" cy="78.64" r="0.86" fill="#111"/>
<circle cx="424.21" cy="80.26" r="0.86" fill="#111"/>
<circle cx="426.54" cy="80.13" r="0.86" fill="#111"/>
<circle cx="429.32" cy="80.16" r="0.86" fill="#111"/>
<circle cx="431.79" cy="80.02" r="0.86" fill="#111"/>
<circle cx="434.27" cy="80.25" r="0.86" fill="#111"/>
<circle cx="437.05" cy="80.24" r="0.86" fill="#111"/>
<circle cx="439.64" cy="80.01" r="0.86" fill="#111"/>
<circle cx="423.73" cy="80.40" r="0.86" fill="#111"/>
<circle cx="426.88" cy="81.54" r="0.86" fill="#111"/>
<circle cx="429.40" cy="81.81" r="0.86" fill="#111"/>
<circle cx="432.27" cy="81.67" r="0.86" fill="#111"/>
<circle cx="434.78" cy="81.72" r="0.86" fill="#111"/>
<circle cx="437.39" cy="81.63" r="0.86" fill="#111"/>
<circle cx="432.01" cy="83.31" r="0.86" fill="#111"/>
<circle cx="434.84" cy="83.39" r="0.86" fill="#111"/>
<circle cx="437.48" cy="83.21" r="0.86" fill="#111"/>
<circle cx="429.65" cy="83.00" r="0.86" fill="#111"/>
<circle cx="433.96" cy="85.41" r="0.86" fill="#111"/>
<circle cx="432.80" cy="89.50" r="0.86" fill="#111"/>
<circle cx="435.00" cy="89.80" r="0.86" fill="#111"/>
<circle cx="437.00" cy="90.20" r="0.86" fill="#111"/>
<circle cx="433.50" cy="91.60" r="0.86" fill="#111"/>
<circle cx="435.80" cy="92.00" r="0.86" fill="#111"/>
<circle cx="434.50" cy="93.40" r="0.86" fill="#111"/>
<line x1="419.60" y1="71.40" x2="449.00" y2="71.40" stroke="#1a1a1a" stroke-width="1.3" />
<circle cx="478.80" cy="48.00" r="0.8" fill="#111"/>
<circle cx="480.90" cy="48.00" r="0.8" fill="#111"/>
<circle cx="482.00" cy="48.50" r="0.8" fill="#111"/>
<circle cx="479.90" cy="50.10" r="0.8" fill="#111"/>
<circle cx="479.30" cy="52.00" r="0.8" fill="#111"/>
<circle cx="481.20" cy="51.70" r="0.8" fill="#111"/>
<circle cx="478.80" cy="53.90" r="0.8" fill="#111"/>
<circle cx="480.90" cy="53.90" r="0.8" fill="#111"/>
<circle cx="482.00" cy="54.90" r="0.8" fill="#111"/>
<circle cx="479.30" cy="56.00" r="0.8" fill="#111"/>
<circle cx="481.20" cy="56.50" r="0.8" fill="#111"/>
<circle cx="479.90" cy="58.40" r="0.8" fill="#111"/>
<circle cx="482.00" cy="59.20" r="0.8" fill="#111"/>
<circle cx="484.10" cy="59.20" r="0.8" fill="#111"/>
<circle cx="478.30" cy="60.80" r="0.8" fill="#111"/>
<circle cx="480.40" cy="61.30" r="0.8" fill="#111"/>
<circle cx="482.50" cy="61.60" r="0.8" fill="#111"/>
<circle cx="477.20" cy="64.50" r="0.8" fill="#111"/>
<circle cx="479.30" cy="64.50" r="0.8" fill="#111"/>
<circle cx="481.20" cy="64.50" r="0.8" fill="#111"/>
<circle cx="478.80" cy="66.40" r="0.8" fill="#111"/>
<circle cx="482.00" cy="66.40" r="0.8" fill="#111"/>
<circle cx="483.60" cy="67.20" r="0.8" fill="#111"/>
<circle cx="479.60" cy="68.80" r="0.8" fill="#111"/>
<circle cx="482.50" cy="68.80" r="0.8" fill="#111"/>
<circle cx="478.80" cy="70.90" r="0.8" fill="#111"/>
<circle cx="481.20" cy="71.20" r="0.8" fill="#111"/>
<circle cx="479.30" cy="73.10" r="0.8" fill="#111"/>
<circle cx="482.00" cy="73.10" r="0.8" fill="#111"/>
<circle cx="484.40" cy="72.80" r="0.8" fill="#111"/>
<circle cx="478.80" cy="75.20" r="0.8" fill="#111"/>
<circle cx="481.20" cy="75.20" r="0.8" fill="#111"/>
<circle cx="479.60" cy="77.60" r="0.8" fill="#111"/>
<circle cx="481.20" cy="77.30" r="0.8" fill="#111"/>
<circle cx="480.90" cy="85.30" r="0.8" fill="#111"/>
<line x1="466.30" y1="62.70" x2="494.80" y2="62.70" stroke="#1a1a1a" stroke-width="1.3" />
<text x="438.25" y="110.40" font-size="7.0" text-anchor="middle" font-weight="bold" fill="#1a1a1a" textLength="37.5" lengthAdjust="spacingAndGlyphs" stroke="#1a1a1a" stroke-width="0.36">MRD&lt;0.01%</text>
<text x="435.95" y="119.00" font-size="7.0" text-anchor="middle" font-weight="bold" fill="#1a1a1a" textLength="24.30000000000001" lengthAdjust="spacingAndGlyphs" stroke="#1a1a1a" stroke-width="0.36">(<tspan font-style="italic">n</tspan>=129)</text>
<text x="485.40" y="110.40" font-size="7.0" text-anchor="middle" font-weight="bold" fill="#1a1a1a" textLength="37.400000000000034" lengthAdjust="spacingAndGlyphs" stroke="#1a1a1a" stroke-width="0.36">MRD&gt;0.01%</text>
<text x="483.00" y="119.00" font-size="7.0" text-anchor="middle" font-weight="bold" fill="#1a1a1a" textLength="19.0" lengthAdjust="spacingAndGlyphs" stroke="#1a1a1a" stroke-width="0.36">(<tspan font-style="italic">n</tspan>=37)</text>
<text x="10.70" y="145.60" font-size="11.2" text-anchor="start" font-weight="bold" fill="#1a1a1a" textLength="5.600000000000001" lengthAdjust="spacingAndGlyphs" stroke="#1a1a1a" stroke-width="0.45">E</text>
<line x1="30.40" y1="167.30" x2="30.40" y2="244.40" stroke="#2a2a2a" stroke-width="0.95" />
<line x1="28.20" y1="167.30" x2="30.40" y2="167.30" stroke="#2a2a2a" stroke-width="0.8" />
<text x="27.70" y="168.92" font-size="4.5" text-anchor="end" font-weight="bold" fill="#1a1a1a" textLength="12.13" lengthAdjust="spacingAndGlyphs" stroke="#1a1a1a" stroke-width="0.12">10000</text>
<line x1="28.20" y1="180.15" x2="30.40" y2="180.15" stroke="#2a2a2a" stroke-width="0.8" />
<text x="27.70" y="181.77" font-size="4.5" text-anchor="end" font-weight="bold" fill="#1a1a1a" textLength="9.71" lengthAdjust="spacingAndGlyphs" stroke="#1a1a1a" stroke-width="0.12">1000</text>
<line x1="28.20" y1="193.00" x2="30.40" y2="193.00" stroke="#2a2a2a" stroke-width="0.8" />
<text x="27.70" y="194.62" font-size="4.5" text-anchor="end" font-weight="bold" fill="#1a1a1a" textLength="7.28" lengthAdjust="spacingAndGlyphs" stroke="#1a1a1a" stroke-width="0.12">100</text>
<line x1="28.20" y1="205.85" x2="30.40" y2="205.85" stroke="#2a2a2a" stroke-width="0.8" />
<text x="27.70" y="207.47" font-size="4.5" text-anchor="end" font-weight="bold" fill="#1a1a1a" textLength="4.85" lengthAdjust="spacingAndGlyphs" stroke="#1a1a1a" stroke-width="0.12">10</text>
<line x1="28.20" y1="218.70" x2="30.40" y2="218.70" stroke="#2a2a2a" stroke-width="0.8" />
<text x="27.70" y="220.32" font-size="4.5" text-anchor="end" font-weight="bold" fill="#1a1a1a" textLength="2.43" lengthAdjust="spacingAndGlyphs" stroke="#1a1a1a" stroke-width="0.12">1</text>
<line x1="28.20" y1="231.55" x2="30.40" y2="231.55" stroke="#2a2a2a" stroke-width="0.8" />
<text x="27.70" y="233.17" font-size="4.5" text-anchor="end" font-weight="bold" fill="#1a1a1a" textLength="6.07" lengthAdjust="spacingAndGlyphs" stroke="#1a1a1a" stroke-width="0.12">0.1</text>
<line x1="28.20" y1="244.40" x2="30.40" y2="244.40" stroke="#2a2a2a" stroke-width="0.8" />
<text x="27.70" y="246.02" font-size="4.5" text-anchor="end" font-weight="bold" fill="#1a1a1a" textLength="8.49" lengthAdjust="spacingAndGlyphs" stroke="#1a1a1a" stroke-width="0.12">0.01</text>
<line x1="30.40" y1="244.40" x2="127.30" y2="244.40" stroke="#2a2a2a" stroke-width="0.95" />
<line x1="42.60" y1="243.60" x2="42.60" y2="246.20" stroke="#2a2a2a" stroke-width="0.8" />
<line x1="67.40" y1="243.60" x2="67.40" y2="246.20" stroke="#2a2a2a" stroke-width="0.8" />
<line x1="90.80" y1="243.60" x2="90.80" y2="246.20" stroke="#2a2a2a" stroke-width="0.8" />
<line x1="116.00" y1="243.60" x2="116.00" y2="246.20" stroke="#2a2a2a" stroke-width="0.8" />
<line x1="43.60" y1="145.40" x2="117.00" y2="145.40" stroke="#2a2a2a" stroke-width="1.25" />
<line x1="43.60" y1="143.30" x2="43.60" y2="147.50" stroke="#2a2a2a" stroke-width="1.0" />
<line x1="117.00" y1="143.30" x2="117.00" y2="147.50" stroke="#2a2a2a" stroke-width="1.0" />
<path d="M76.30,136.85L76.30,140.15M74.87,137.68L77.73,139.32M74.87,139.32L77.73,137.68" stroke="#111" stroke-width="0.9" stroke-linecap="butt" fill="none"/>
<path d="M79.80,136.85L79.80,140.15M78.37,137.68L81.23,139.32M78.37,139.32L81.23,137.68" stroke="#111" stroke-width="0.9" stroke-linecap="butt" fill="none"/>
<path d="M83.30,136.85L83.30,140.15M81.87,137.68L84.73,139.32M81.87,139.32L84.73,137.68" stroke="#111" stroke-width="0.9" stroke-linecap="butt" fill="none"/>
<line x1="43.60" y1="157.30" x2="92.40" y2="157.30" stroke="#2a2a2a" stroke-width="1.25" />
<line x1="43.60" y1="155.20" x2="43.60" y2="159.40" stroke="#2a2a2a" stroke-width="1.0" />
<line x1="92.40" y1="155.20" x2="92.40" y2="159.40" stroke="#2a2a2a" stroke-width="1.0" />
<path d="M65.50,148.95L65.50,152.25M64.07,149.78L66.93,151.42M64.07,151.42L66.93,149.78" stroke="#111" stroke-width="0.9" stroke-linecap="butt" fill="none"/>
<path d="M69.00,148.95L69.00,152.25M67.57,149.78L70.43,151.42M67.57,151.42L70.43,149.78" stroke="#111" stroke-width="0.9" stroke-linecap="butt" fill="none"/>
<path d="M72.50,148.95L72.50,152.25M71.07,149.78L73.93,151.42M71.07,151.42L73.93,149.78" stroke="#111" stroke-width="0.9" stroke-linecap="butt" fill="none"/>
<line x1="43.20" y1="165.30" x2="67.80" y2="165.30" stroke="#2a2a2a" stroke-width="1.25" />
<line x1="43.20" y1="163.20" x2="43.20" y2="167.40" stroke="#2a2a2a" stroke-width="1.0" />
<line x1="67.80" y1="163.20" x2="67.80" y2="167.40" stroke="#2a2a2a" stroke-width="1.0" />
<path d="M53.90,159.55L53.90,162.85M52.47,160.38L55.33,162.02M52.47,162.02L55.33,160.38" stroke="#111" stroke-width="0.9" stroke-linecap="butt" fill="none"/>
<path d="M57.40,159.55L57.40,162.85M55.97,160.38L58.83,162.02M55.97,162.02L58.83,160.38" stroke="#111" stroke-width="0.9" stroke-linecap="butt" fill="none"/>
<path d="M60.90,159.55L60.90,162.85M59.47,160.38L62.33,162.02M59.47,162.02L62.33,160.38" stroke="#111" stroke-width="0.9" stroke-linecap="butt" fill="none"/>
<line x1="69.10" y1="175.30" x2="117.00" y2="175.30" stroke="#2a2a2a" stroke-width="1.25" />
<line x1="69.10" y1="173.20" x2="69.10" y2="177.40" stroke="#2a2a2a" stroke-width="1.0" />
<line x1="117.00" y1="173.20" x2="117.00" y2="177.40" stroke="#2a2a2a" stroke-width="1.0" />
<path d="M91.35,168.55L91.35,171.85M89.92,169.38L92.78,171.02M89.92,171.02L92.78,169.38" stroke="#111" stroke-width="0.9" stroke-linecap="butt" fill="none"/>
<path d="M94.85,168.55L94.85,171.85M93.42,169.38L96.28,171.02M93.42,171.02L96.28,169.38" stroke="#111" stroke-width="0.9" stroke-linecap="butt" fill="none"/>
<line x1="69.10" y1="183.90" x2="89.40" y2="183.90" stroke="#2a2a2a" stroke-width="1.25" />
<line x1="69.10" y1="181.80" x2="69.10" y2="186.00" stroke="#2a2a2a" stroke-width="1.0" />
<line x1="89.40" y1="181.80" x2="89.40" y2="186.00" stroke="#2a2a2a" stroke-width="1.0" />
<path d="M80.50,178.65L80.50,181.95M79.07,179.48L81.93,181.12M79.07,181.12L81.93,179.48" stroke="#111" stroke-width="0.9" stroke-linecap="butt" fill="none"/>
<circle cx="42.60" cy="179.50" r="0.85" fill="#111"/>
<circle cx="42.60" cy="181.70" r="0.85" fill="#111"/>
<circle cx="41.50" cy="183.50" r="0.85" fill="#111"/>
<circle cx="43.80" cy="184.00" r="0.85" fill="#111"/>
<circle cx="42.00" cy="185.80" r="0.85" fill="#111"/>
<circle cx="43.30" cy="186.20" r="0.85" fill="#111"/>
<circle cx="42.60" cy="188.50" r="0.85" fill="#111"/>
<circle cx="41.50" cy="190.70" r="0.85" fill="#111"/>
<circle cx="43.80" cy="190.30" r="0.85" fill="#111"/>
<circle cx="42.60" cy="192.50" r="0.85" fill="#111"/>
<circle cx="44.20" cy="196.60" r="0.85" fill="#111"/>
<circle cx="42.60" cy="199.30" r="0.85" fill="#111"/>
<line x1="35.20" y1="186.90" x2="50.50" y2="186.90" stroke="#1a1a1a" stroke-width="1.3" />
<circle cx="66.70" cy="189.80" r="0.85" fill="#111"/>
<circle cx="67.40" cy="193.60" r="0.85" fill="#111"/>
<circle cx="67.40" cy="209.40" r="0.85" fill="#111"/>
<circle cx="65.80" cy="212.30" r="0.85" fill="#111"/>
<circle cx="67.40" cy="213.90" r="0.85" fill="#111"/>
<circle cx="64.00" cy="217.30" r="0.85" fill="#111"/>
<circle cx="67.40" cy="220.70" r="0.85" fill="#111"/>
<circle cx="65.20" cy="224.00" r="0.85" fill="#111"/>
<circle cx="67.40" cy="224.00" r="0.85" fill="#111"/>
<circle cx="66.30" cy="228.10" r="0.85" fill="#111"/>
<line x1="59.50" y1="214.60" x2="75.70" y2="214.60" stroke="#1a1a1a" stroke-width="1.3" />
<circle cx="91.80" cy="187.30" r="0.86" fill="#111"/>
<circle cx="89.30" cy="188.50" r="0.86" fill="#111"/>
<circle cx="89.50" cy="189.69" r="0.86" fill="#111"/>
<circle cx="94.13" cy="189.61" r="0.86" fill="#111"/>
<circle cx="88.53" cy="191.47" r="0.86" fill="#111"/>
<circle cx="92.20" cy="191.46" r="0.86" fill="#111"/>
<circle cx="88.10" cy="191.77" r="0.86" fill="#111"/>
<circle cx="86.63" cy="193.69" r="0.86" fill="#111"/>
<circle cx="90.09" cy="193.44" r="0.86" fill="#111"/>
<circle cx="93.32" cy="193.43" r="0.86" fill="#111"/>
<circle cx="86.05" cy="193.59" r="0.86" fill="#111"/>
<circle cx="85.93" cy="195.12" r="0.86" fill="#111"/>
<circle cx="88.52" cy="195.47" r="0.86" fill="#111"/>
<circle cx="91.38" cy="195.19" r="0.86" fill="#111"/>
<circle cx="94.01" cy="195.27" r="0.86" fill="#111"/>
<circle cx="86.91" cy="197.72" r="0.86" fill="#111"/>
<circle cx="90.01" cy="197.83" r="0.86" fill="#111"/>
<circle cx="93.53" cy="197.95" r="0.86" fill="#111"/>
<circle cx="86.20" cy="197.93" r="0.86" fill="#111"/>
<circle cx="89.22" cy="199.56" r="0.86" fill="#111"/>
<circle cx="92.85" cy="199.68" r="0.86" fill="#111"/>
<circle cx="88.16" cy="199.58" r="0.86" fill="#111"/>
<circle cx="89.60" cy="202.50" r="0.86" fill="#111"/>
<circle cx="92.10" cy="201.00" r="0.86" fill="#111"/>
<circle cx="95.90" cy="202.80" r="0.86" fill="#111"/>
<circle cx="91.50" cy="205.40" r="0.86" fill="#111"/>
<circle cx="93.80" cy="204.80" r="0.86" fill="#111"/>
<circle cx="92.10" cy="210.40" r="0.86" fill="#111"/>
<circle cx="92.10" cy="212.50" r="0.86" fill="#111"/>
<circle cx="94.00" cy="212.70" r="0.86" fill="#111"/>
<circle cx="90.20" cy="215.00" r="0.86" fill="#111"/>
<circle cx="91.70" cy="215.50" r="0.86" fill="#111"/>
<circle cx="92.10" cy="228.70" r="0.86" fill="#111"/>
<circle cx="94.00" cy="227.40" r="0.86" fill="#111"/>
<line x1="84.30" y1="196.60" x2="99.80" y2="196.60" stroke="#1a1a1a" stroke-width="1.3" />
<circle cx="114.70" cy="179.20" r="0.86" fill="#111"/>
<circle cx="116.50" cy="180.50" r="0.86" fill="#111"/>
<circle cx="117.70" cy="181.70" r="0.86" fill="#111"/>
<circle cx="114.00" cy="186.00" r="0.86" fill="#111"/>
<circle cx="117.10" cy="187.30" r="0.86" fill="#111"/>
<circle cx="122.10" cy="187.90" r="0.86" fill="#111"/>
<circle cx="115.13" cy="188.97" r="0.86" fill="#111"/>
<circle cx="117.66" cy="189.02" r="0.86" fill="#111"/>
<circle cx="119.78" cy="189.29" r="0.86" fill="#111"/>
<circle cx="122.57" cy="188.96" r="0.86" fill="#111"/>
<circle cx="112.64" cy="188.97" r="0.86" fill="#111"/>
<circle cx="112.68" cy="191.09" r="0.86" fill="#111"/>
<circle cx="115.06" cy="190.81" r="0.86" fill="#111"/>
<circle cx="117.35" cy="191.08" r="0.86" fill="#111"/>
<circle cx="119.59" cy="190.89" r="0.86" fill="#111"/>
<circle cx="121.79" cy="190.81" r="0.86" fill="#111"/>
<circle cx="110.83" cy="191.15" r="0.86" fill="#111"/>
<circle cx="110.53" cy="192.77" r="0.86" fill="#111"/>
<circle cx="112.59" cy="193.00" r="0.86" fill="#111"/>
<circle cx="114.74" cy="192.84" r="0.86" fill="#111"/>
<circle cx="117.23" cy="192.84" r="0.86" fill="#111"/>
<circle cx="119.41" cy="193.05" r="0.86" fill="#111"/>
<circle cx="121.30" cy="192.77" r="0.86" fill="#111"/>
<circle cx="110.13" cy="192.72" r="0.86" fill="#111"/>
<circle cx="111.35" cy="194.50" r="0.86" fill="#111"/>
<circle cx="113.63" cy="194.72" r="0.86" fill="#111"/>
<circle cx="115.81" cy="194.89" r="0.86" fill="#111"/>
<circle cx="117.99" cy="194.66" r="0.86" fill="#111"/>
<circle cx="120.04" cy="194.89" r="0.86" fill="#111"/>
<circle cx="122.19" cy="194.66" r="0.86" fill="#111"/>
<circle cx="110.50" cy="194.50" r="0.86" fill="#111"/>
<circle cx="112.38" cy="196.55" r="0.86" fill="#111"/>
<circle cx="114.57" cy="196.45" r="0.86" fill="#111"/>
<circle cx="117.17" cy="196.76" r="0.86" fill="#111"/>
<circle cx="119.49" cy="196.53" r="0.86" fill="#111"/>
<circle cx="121.79" cy="196.53" r="0.86" fill="#111"/>
<circle cx="112.55" cy="198.40" r="0.86" fill="#111"/>
<circle cx="114.77" cy="198.29" r="0.86" fill="#111"/>
<circle cx="116.84" cy="198.35" r="0.86" fill="#111"/>
<circle cx="118.86" cy="198.41" r="0.86" fill="#111"/>
<circle cx="121.14" cy="198.33" r="0.86" fill="#111"/>
<circle cx="123.25" cy="198.29" r="0.86" fill="#111"/>
<circle cx="110.21" cy="198.56" r="0.86" fill="#111"/>
<circle cx="112.01" cy="200.19" r="0.86" fill="#111"/>
<circle cx="114.55" cy="200.31" r="0.86" fill="#111"/>
<circle cx="116.75" cy="200.43" r="0.86" fill="#111"/>
<circle cx="118.97" cy="200.43" r="0.86" fill="#111"/>
<circle cx="121.51" cy="200.43" r="0.86" fill="#111"/>
<circle cx="114.10" cy="202.23" r="0.86" fill="#111"/>
<circle cx="116.17" cy="201.96" r="0.86" fill="#111"/>
<circle cx="118.33" cy="202.04" r="0.86" fill="#111"/>
<circle cx="120.68" cy="202.08" r="0.86" fill="#111"/>
<circle cx="113.10" cy="203.98" r="0.86" fill="#111"/>
<circle cx="115.60" cy="204.10" r="0.86" fill="#111"/>
<circle cx="118.02" cy="203.95" r="0.86" fill="#111"/>
<circle cx="112.70" cy="203.95" r="0.86" fill="#111"/>
<circle cx="115.05" cy="205.31" r="0.86" fill="#111"/>
<circle cx="117.93" cy="205.32" r="0.86" fill="#111"/>
<circle cx="114.40" cy="210.20" r="0.86" fill="#111"/>
<circle cx="116.90" cy="210.20" r="0.86" fill="#111"/>
<circle cx="116.70" cy="223.20" r="0.86" fill="#111"/>
<line x1="108.00" y1="193.90" x2="124.50" y2="193.90" stroke="#1a1a1a" stroke-width="1.3" />
<text x="38.80" y="257.50" font-size="7.0" text-anchor="middle" font-weight="bold" fill="#1a1a1a" textLength="11.0" lengthAdjust="spacingAndGlyphs" stroke="#1a1a1a" stroke-width="0.36">MLL</text>
<text x="39.05" y="266.00" font-size="7.0" text-anchor="middle" font-weight="bold" fill="#1a1a1a" textLength="19.499999999999996" lengthAdjust="spacingAndGlyphs" stroke="#1a1a1a" stroke-width="0.36">(<tspan font-style="italic">n</tspan>=10)</text>
<text x="67.25" y="257.50" font-size="7.0" text-anchor="middle" font-weight="bold" fill="#1a1a1a" textLength="25.900000000000006" lengthAdjust="spacingAndGlyphs" stroke="#1a1a1a" stroke-width="0.36">Complex</text>
<text x="67.15" y="266.00" font-size="7.0" text-anchor="middle" font-weight="bold" fill="#1a1a1a" textLength="15.500000000000007" lengthAdjust="spacingAndGlyphs" stroke="#1a1a1a" stroke-width="0.36">(<tspan font-style="italic">n</tspan>=9)</text>
<text x="95.25" y="257.50" font-size="7.0" text-anchor="middle" font-weight="bold" fill="#1a1a1a" textLength="22.099999999999994" lengthAdjust="spacingAndGlyphs" stroke="#1a1a1a" stroke-width="0.36">Normal</text>
<text x="95.85" y="266.00" font-size="7.0" text-anchor="middle" font-weight="bold" fill="#1a1a1a" textLength="19.89999999999999" lengthAdjust="spacingAndGlyphs" stroke="#1a1a1a" stroke-width="0.36">(<tspan font-style="italic">n</tspan>=39)</text>
<text x="124.00" y="257.50" font-size="7.0" text-anchor="middle" font-weight="bold" fill="#1a1a1a" textLength="25.80000000000001" lengthAdjust="spacingAndGlyphs" stroke="#1a1a1a" stroke-width="0.36">BCR-ABL</text>
<text x="123.80" y="266.00" font-size="7.0" text-anchor="middle" font-weight="bold" fill="#1a1a1a" textLength="20.000000000000014" lengthAdjust="spacingAndGlyphs" stroke="#1a1a1a" stroke-width="0.36">(<tspan font-style="italic">n</tspan>=74)</text>
<text x="6.20" y="208.00" font-size="6.8" text-anchor="middle" font-weight="bold" fill="#1a1a1a" textLength="36" lengthAdjust="spacingAndGlyphs" transform="rotate(-90 6.20 208.00)" stroke="#1a1a1a" stroke-width="0.4">CSRP2/ABL%</text>
<text x="143.70" y="145.60" font-size="11.2" text-anchor="start" font-weight="bold" fill="#1a1a1a" textLength="5.5" lengthAdjust="spacingAndGlyphs" stroke="#1a1a1a" stroke-width="0.45">F</text>
<line x1="156.90" y1="163.00" x2="156.90" y2="246.40" stroke="#2a2a2a" stroke-width="1.0" />
<line x1="155.50" y1="163.20" x2="156.90" y2="163.20" stroke="#2a2a2a" stroke-width="0.8" />
<text x="150.60" y="165.10" font-size="5.4" text-anchor="end" font-weight="normal" fill="#1a1a1a" stroke="#1a1a1a" stroke-width="0.22">1000</text>
<line x1="155.50" y1="179.42" x2="156.90" y2="179.42" stroke="#2a2a2a" stroke-width="0.8" />
<text x="150.60" y="181.32" font-size="5.4" text-anchor="end" font-weight="normal" fill="#1a1a1a" stroke="#1a1a1a" stroke-width="0.22">800</text>
<line x1="155.50" y1="195.64" x2="156.90" y2="195.64" stroke="#2a2a2a" stroke-width="0.8" />
<text x="150.60" y="197.54" font-size="5.4" text-anchor="end" font-weight="normal" fill="#1a1a1a" stroke="#1a1a1a" stroke-width="0.22">600</text>
<line x1="155.50" y1="211.86" x2="156.90" y2="211.86" stroke="#2a2a2a" stroke-width="0.8" />
<text x="150.60" y="213.76" font-size="5.4" text-anchor="end" font-weight="normal" fill="#1a1a1a" stroke="#1a1a1a" stroke-width="0.22">400</text>
<line x1="155.50" y1="228.08" x2="156.90" y2="228.08" stroke="#2a2a2a" stroke-width="0.8" />
<text x="150.60" y="229.98" font-size="5.4" text-anchor="end" font-weight="normal" fill="#1a1a1a" stroke="#1a1a1a" stroke-width="0.22">200</text>
<line x1="155.50" y1="244.30" x2="156.90" y2="244.30" stroke="#2a2a2a" stroke-width="0.8" />
<text x="150.60" y="246.20" font-size="5.4" text-anchor="end" font-weight="normal" fill="#1a1a1a" stroke="#1a1a1a" stroke-width="0.22">0</text>
<line x1="156.90" y1="244.60" x2="252.90" y2="244.60" stroke="#2a2a2a" stroke-width="0.9" />
<line x1="189.00" y1="244.00" x2="189.00" y2="246.20" stroke="#2a2a2a" stroke-width="0.8" />
<line x1="221.00" y1="244.00" x2="221.00" y2="246.20" stroke="#2a2a2a" stroke-width="0.8" />
<line x1="252.90" y1="244.60" x2="252.90" y2="246.60" stroke="#2a2a2a" stroke-width="0.8" />
<polyline points="172.7,243.2 204.6,243.8 236.9,243.6" fill="none" stroke="#e8a040" stroke-width="1.4"/>
<polyline points="172.7,235.8 204.6,243.8 236.9,185.6" fill="none" stroke="#a8c060" stroke-width="0.8"/>
<polyline points="172.7,243.6 204.6,243.8 236.9,212.6" fill="none" stroke="#7040a0" stroke-width="1.3"/>
<polyline points="172.7,243.6 204.6,243.8 236.9,229.6" fill="none" stroke="#f0c020" stroke-width="1.3"/>
<polyline points="172.7,222.6 204.6,243.8 236.9,225.8" fill="none" stroke="#e03030" stroke-width="1.5"/>
<polyline points="172.7,229.0 204.6,243.8 236.9,242.6" fill="none" stroke="#30b8e0" stroke-width="1.4"/>
<polyline points="172.7,234.7 204.6,243.8 236.9,241.1" fill="none" stroke="#3a6a20" stroke-width="1.3"/>
<polyline points="172.7,238.5 204.6,243.8 236.9,241.1" fill="none" stroke="#1a4a50" stroke-width="1.6"/>
<circle cx="172.7" cy="243.2" r="1.6" fill="#c08040"/>
<circle cx="172.7" cy="222.6" r="2.1" fill="#e02838"/>
<circle cx="172.7" cy="229.0" r="2.1" fill="#30b8e0"/>
<circle cx="172.7" cy="234.7" r="2.1" fill="#2a5a20"/>
<circle cx="172.7" cy="238.5" r="1.6" fill="#204a30" stroke="#0a1a10" stroke-width="1.1"/>
<circle cx="236.9" cy="185.6" r="1.5" fill="#3a4a10" stroke="#b0c050" stroke-width="0.7"/>
<polygon points="234.8,214.2 239.0,214.2 236.9,210.29999999999998" fill="#7040a0"/>
<circle cx="236.9" cy="225.8" r="2.1" fill="#e02838"/>
<circle cx="236.9" cy="229.6" r="2.1" fill="#d08a30"/>
<circle cx="236.9" cy="242.6" r="1.6" fill="#30b8e0"/>
<circle cx="236.9" cy="241.1" r="1.6" fill="#2a5a50" stroke="#0a1a10" stroke-width="1.1"/>
<circle cx="204.6" cy="243.8" r="1.8" fill="#555" stroke="#111" stroke-width="0.9"/>
<text x="173.70" y="257.70" font-size="7.0" text-anchor="middle" font-weight="bold" fill="#1a1a1a" textLength="25.200000000000017" lengthAdjust="spacingAndGlyphs" stroke="#1a1a1a" stroke-width="0.36">De novo</text>
<text x="205.25" y="257.70" font-size="7.0" text-anchor="middle" font-weight="bold" fill="#1a1a1a" textLength="8.5" lengthAdjust="spacingAndGlyphs" stroke="#1a1a1a" stroke-width="0.36">CR</text>
<text x="205.50" y="266.20" font-size="7.0" text-anchor="middle" font-weight="bold" fill="#1a1a1a" textLength="16.19999999999999" lengthAdjust="spacingAndGlyphs" stroke="#1a1a1a" stroke-width="0.36">(<tspan font-style="italic">n</tspan>=9)</text>
<text x="237.10" y="257.70" font-size="7.0" text-anchor="middle" font-weight="bold" fill="#1a1a1a" textLength="23.599999999999994" lengthAdjust="spacingAndGlyphs" stroke="#1a1a1a" stroke-width="0.36">Relapse</text>
<text x="265.70" y="145.60" font-size="11.2" text-anchor="start" font-weight="bold" fill="#1a1a1a" textLength="7.800000000000011" lengthAdjust="spacingAndGlyphs" stroke="#1a1a1a" stroke-width="0.45">G</text>
<line x1="282.00" y1="159.80" x2="282.00" y2="249.30" stroke="#2a2a2a" stroke-width="1.0" />
<line x1="282.00" y1="159.80" x2="381.20" y2="159.80" stroke="#2a2a2a" stroke-width="1.0" />
<line x1="381.20" y1="159.80" x2="381.20" y2="249.30" stroke="#2a2a2a" stroke-width="1.0" />
<line x1="282.00" y1="249.30" x2="381.20" y2="249.30" stroke="#2a2a2a" stroke-width="1.0" />
<line x1="307.30" y1="159.80" x2="307.30" y2="249.30" stroke="#2a2a2a" stroke-width="1.0" />
<line x1="282.00" y1="232.00" x2="388.00" y2="232.00" stroke="#2a2a2a" stroke-width="1.4" />
<line x1="280.20" y1="159.30" x2="282.00" y2="159.30" stroke="#2a2a2a" stroke-width="0.8" />
<text x="280.50" y="161.00" font-size="4.9" text-anchor="end" font-weight="bold" fill="#1a1a1a" stroke="#1a1a1a" stroke-width="0.15">100</text>
<line x1="280.20" y1="177.80" x2="282.00" y2="177.80" stroke="#2a2a2a" stroke-width="0.8" />
<text x="280.50" y="179.50" font-size="4.9" text-anchor="end" font-weight="bold" fill="#1a1a1a" stroke="#1a1a1a" stroke-width="0.15">10</text>
<line x1="280.20" y1="195.80" x2="282.00" y2="195.80" stroke="#2a2a2a" stroke-width="0.8" />
<text x="280.50" y="197.50" font-size="4.9" text-anchor="end" font-weight="bold" fill="#1a1a1a" stroke="#1a1a1a" stroke-width="0.15">1</text>
<line x1="280.20" y1="213.80" x2="282.00" y2="213.80" stroke="#2a2a2a" stroke-width="0.8" />
<text x="280.50" y="215.50" font-size="4.9" text-anchor="end" font-weight="bold" fill="#1a1a1a" stroke="#1a1a1a" stroke-width="0.15">0.1</text>
<line x1="280.20" y1="232.00" x2="282.00" y2="232.00" stroke="#2a2a2a" stroke-width="0.8" />
<text x="280.50" y="233.70" font-size="4.9" text-anchor="end" font-weight="bold" fill="#1a1a1a" stroke="#1a1a1a" stroke-width="0.15">0.01</text>
<line x1="280.20" y1="249.30" x2="282.00" y2="249.30" stroke="#2a2a2a" stroke-width="0.8" />
<text x="280.50" y="251.00" font-size="4.9" text-anchor="end" font-weight="bold" fill="#1a1a1a" stroke="#1a1a1a" stroke-width="0.15">0</text>
<line x1="282.00" y1="249.30" x2="282.00" y2="251.10" stroke="#2a2a2a" stroke-width="0.8" />
<text x="282.00" y="257.40" font-size="5.8" text-anchor="middle" font-weight="normal" fill="#1a1a1a" stroke="#1a1a1a" stroke-width="0.3">0</text>
<line x1="307.10" y1="249.30" x2="307.10" y2="251.10" stroke="#2a2a2a" stroke-width="0.8" />
<text x="307.10" y="257.40" font-size="5.8" text-anchor="middle" font-weight="normal" fill="#1a1a1a" stroke="#1a1a1a" stroke-width="0.3">1</text>
<line x1="332.50" y1="249.30" x2="332.50" y2="251.10" stroke="#2a2a2a" stroke-width="0.8" />
<text x="332.50" y="257.40" font-size="5.8" text-anchor="middle" font-weight="normal" fill="#1a1a1a" stroke="#1a1a1a" stroke-width="0.3">10</text>
<line x1="355.90" y1="249.30" x2="355.90" y2="251.10" stroke="#2a2a2a" stroke-width="0.8" />
<text x="355.90" y="257.40" font-size="5.8" text-anchor="middle" font-weight="normal" fill="#1a1a1a" stroke="#1a1a1a" stroke-width="0.3">100</text>
<line x1="382.40" y1="249.30" x2="382.40" y2="251.10" stroke="#2a2a2a" stroke-width="0.8" />
<text x="382.40" y="257.40" font-size="5.8" text-anchor="middle" font-weight="normal" fill="#1a1a1a" stroke="#1a1a1a" stroke-width="0.3">1000</text>
<text x="333.35" y="266.60" font-size="7.3" text-anchor="middle" font-weight="normal" fill="#1a1a1a" textLength="68.09999999999997" lengthAdjust="spacingAndGlyphs" stroke="#1a1a1a" stroke-width="0.3">CSRP2/ABL% by qPCR</text>
<text x="267.90" y="200.60" font-size="6.6" text-anchor="middle" font-weight="bold" fill="#1a1a1a" textLength="91" lengthAdjust="spacingAndGlyphs" transform="rotate(-90 267.90 200.60)" stroke="#1a1a1a" stroke-width="0.1">MRD monitored by FCM ( % )</text>
<text x="289.30" y="168.30" font-size="5.8" text-anchor="start" font-weight="bold" fill="#1a1a1a" textLength="14.9" lengthAdjust="spacingAndGlyphs" stroke="#1a1a1a" stroke-width="0.2"><tspan font-style="italic">n</tspan>=15</text>
<text x="315.70" y="168.30" font-size="5.8" text-anchor="start" font-weight="bold" fill="#1a1a1a" textLength="15.4" lengthAdjust="spacingAndGlyphs" stroke="#1a1a1a" stroke-width="0.2"><tspan font-style="italic">n</tspan>=38</text>
<text x="287.80" y="241.60" font-size="5.8" text-anchor="start" font-weight="bold" fill="#1a1a1a" textLength="15.4" lengthAdjust="spacingAndGlyphs" stroke="#1a1a1a" stroke-width="0.2"><tspan font-style="italic">n</tspan>=98</text>
<text x="315.70" y="241.60" font-size="5.8" text-anchor="start" font-weight="bold" fill="#1a1a1a" textLength="14.5" lengthAdjust="spacingAndGlyphs" stroke="#1a1a1a" stroke-width="0.2"><tspan font-style="italic">n</tspan>=31</text>
<text x="321.50" y="224.50" font-size="6.4" text-anchor="start" font-weight="normal" fill="#1a1a1a" textLength="55.8" lengthAdjust="spacingAndGlyphs" stroke="#1a1a1a" stroke-width="0.3">r=0.751, <tspan font-style="italic">P</tspan>&lt;0.0001</text>
<line x1="309.50" y1="231.00" x2="380.00" y2="160.60" stroke="#1a1a1a" stroke-width="1.4" stroke-dasharray="2.4,1.5"/>
<ellipse cx="361.40" cy="161.20" rx="1.55" ry="1.85" fill="none" stroke="#151515" stroke-width="0.95"/>
<ellipse cx="368.00" cy="162.40" rx="1.55" ry="1.85" fill="none" stroke="#151515" stroke-width="0.95"/>
<ellipse cx="371.20" cy="162.40" rx="1.55" ry="1.85" fill="none" stroke="#151515" stroke-width="0.95"/>
<ellipse cx="374.50" cy="161.90" rx="1.55" ry="1.85" fill="none" stroke="#151515" stroke-width="0.95"/>
<ellipse cx="377.80" cy="161.20" rx="1.55" ry="1.85" fill="none" stroke="#151515" stroke-width="0.95"/>
<ellipse cx="344.20" cy="166.80" rx="1.55" ry="1.85" fill="none" stroke="#151515" stroke-width="0.95"/>
<ellipse cx="343.40" cy="181.20" rx="1.55" ry="1.85" fill="none" stroke="#151515" stroke-width="0.95"/>
<ellipse cx="354.00" cy="189.40" rx="1.55" ry="1.85" fill="none" stroke="#151515" stroke-width="0.95"/>
<ellipse cx="354.90" cy="184.20" rx="1.55" ry="1.85" fill="none" stroke="#151515" stroke-width="0.95"/>
<ellipse cx="359.80" cy="181.20" rx="1.55" ry="1.85" fill="none" stroke="#151515" stroke-width="0.95"/>
<ellipse cx="362.20" cy="182.00" rx="1.55" ry="1.85" fill="none" stroke="#151515" stroke-width="0.95"/>
<ellipse cx="364.20" cy="177.60" rx="1.55" ry="1.85" fill="none" stroke="#151515" stroke-width="0.95"/>
<ellipse cx="372.10" cy="179.30" rx="1.55" ry="1.85" fill="none" stroke="#151515" stroke-width="0.95"/>
<ellipse cx="337.60" cy="194.30" rx="1.55" ry="1.85" fill="none" stroke="#151515" stroke-width="0.95"/>
<ellipse cx="329.30" cy="184.20" rx="1.55" ry="1.85" fill="none" stroke="#151515" stroke-width="0.95"/>
<ellipse cx="317.00" cy="190.30" rx="1.55" ry="1.85" fill="none" stroke="#151515" stroke-width="0.95"/>
<ellipse cx="319.50" cy="187.50" rx="1.55" ry="1.85" fill="none" stroke="#151515" stroke-width="0.95"/>
<ellipse cx="322.70" cy="189.10" rx="1.55" ry="1.85" fill="none" stroke="#151515" stroke-width="0.95"/>
<ellipse cx="323.50" cy="191.10" rx="1.55" ry="1.85" fill="none" stroke="#151515" stroke-width="0.95"/>
<ellipse cx="318.60" cy="198.50" rx="1.55" ry="1.85" fill="none" stroke="#151515" stroke-width="0.95"/>
<ellipse cx="320.80" cy="196.00" rx="1.55" ry="1.85" fill="none" stroke="#151515" stroke-width="0.95"/>
<ellipse cx="325.20" cy="201.70" rx="1.55" ry="1.85" fill="none" stroke="#151515" stroke-width="0.95"/>
<ellipse cx="327.60" cy="203.90" rx="1.55" ry="1.85" fill="none" stroke="#151515" stroke-width="0.95"/>
<ellipse cx="332.20" cy="193.50" rx="1.55" ry="1.85" fill="none" stroke="#151515" stroke-width="0.95"/>
<ellipse cx="334.20" cy="191.90" rx="1.55" ry="1.85" fill="none" stroke="#151515" stroke-width="0.95"/>
<ellipse cx="337.10" cy="194.40" rx="1.55" ry="1.85" fill="none" stroke="#151515" stroke-width="0.95"/>
<ellipse cx="333.40" cy="198.50" rx="1.55" ry="1.85" fill="none" stroke="#151515" stroke-width="0.95"/>
<ellipse cx="337.10" cy="205.00" rx="1.55" ry="1.85" fill="none" stroke="#151515" stroke-width="0.95"/>
<ellipse cx="341.60" cy="196.00" rx="1.55" ry="1.85" fill="none" stroke="#151515" stroke-width="0.95"/>
<ellipse cx="347.30" cy="196.80" rx="1.55" ry="1.85" fill="none" stroke="#151515" stroke-width="0.95"/>
<ellipse cx="348.10" cy="200.10" rx="1.55" ry="1.85" fill="none" stroke="#151515" stroke-width="0.95"/>
<ellipse cx="348.10" cy="210.40" rx="1.55" ry="1.85" fill="none" stroke="#151515" stroke-width="0.95"/>
<ellipse cx="318.60" cy="208.30" rx="1.55" ry="1.85" fill="none" stroke="#151515" stroke-width="0.95"/>
<ellipse cx="320.80" cy="209.90" rx="1.55" ry="1.85" fill="none" stroke="#151515" stroke-width="0.95"/>
<ellipse cx="319.50" cy="217.30" rx="1.55" ry="1.85" fill="none" stroke="#151515" stroke-width="0.95"/>
<ellipse cx="314.30" cy="231.40" rx="1.55" ry="1.85" fill="none" stroke="#151515" stroke-width="0.95"/>
<ellipse cx="317.30" cy="231.40" rx="1.55" ry="1.85" fill="none" stroke="#151515" stroke-width="0.95"/>
<text x="397.90" y="145.60" font-size="11.2" text-anchor="start" font-weight="bold" fill="#1a1a1a" textLength="7.400000000000034" lengthAdjust="spacingAndGlyphs" stroke="#1a1a1a" stroke-width="0.45">H</text>
<line x1="405.00" y1="160.50" x2="405.00" y2="249.30" stroke="#2a2a2a" stroke-width="1.0" />
<line x1="405.00" y1="160.50" x2="516.80" y2="160.50" stroke="#2a2a2a" stroke-width="1.0" />
<line x1="516.80" y1="160.50" x2="516.80" y2="249.30" stroke="#2a2a2a" stroke-width="1.0" />
<line x1="405.00" y1="249.30" x2="516.80" y2="249.30" stroke="#2a2a2a" stroke-width="1.0" />
<line x1="403.20" y1="161.50" x2="405.00" y2="161.50" stroke="#2a2a2a" stroke-width="0.8" />
<line x1="403.20" y1="171.90" x2="405.00" y2="171.90" stroke="#2a2a2a" stroke-width="0.8" />
<line x1="403.20" y1="182.50" x2="405.00" y2="182.50" stroke="#2a2a2a" stroke-width="0.8" />
<line x1="403.20" y1="193.10" x2="405.00" y2="193.10" stroke="#2a2a2a" stroke-width="0.8" />
<line x1="403.20" y1="203.80" x2="405.00" y2="203.80" stroke="#2a2a2a" stroke-width="0.8" />
<line x1="403.20" y1="215.50" x2="405.00" y2="215.50" stroke="#2a2a2a" stroke-width="0.8" />
<line x1="403.20" y1="227.20" x2="405.00" y2="227.20" stroke="#2a2a2a" stroke-width="0.8" />
<line x1="403.20" y1="237.60" x2="405.00" y2="237.60" stroke="#2a2a2a" stroke-width="0.8" />
<text x="402.00" y="163.90" font-size="5.8" text-anchor="end" font-weight="bold" fill="#1a1a1a" stroke="#1a1a1a" stroke-width="0.05">1</text>
<text x="402.00" y="173.70" font-size="5.8" text-anchor="end" font-weight="bold" fill="#1a1a1a" stroke="#1a1a1a" stroke-width="0.05">0</text>
<text x="402.00" y="185.20" font-size="5.8" text-anchor="end" font-weight="bold" fill="#1a1a1a" stroke="#1a1a1a" stroke-width="0.05">-1</text>
<text x="402.00" y="195.20" font-size="5.8" text-anchor="end" font-weight="bold" fill="#1a1a1a" stroke="#1a1a1a" stroke-width="0.05">-2</text>
<text x="402.00" y="206.50" font-size="5.8" text-anchor="end" font-weight="bold" fill="#1a1a1a" stroke="#1a1a1a" stroke-width="0.05">-3</text>
<text x="402.00" y="217.70" font-size="5.8" text-anchor="end" font-weight="bold" fill="#1a1a1a" stroke="#1a1a1a" stroke-width="0.05">-4</text>
<text x="402.40" y="228.00" font-size="6.8" text-anchor="end" font-weight="bold" fill="#1a1a1a" textLength="9.6" lengthAdjust="spacingAndGlyphs" stroke="#1a1a1a" stroke-width="0.1">pos</text>
<text x="402.40" y="237.60" font-size="6.8" text-anchor="end" font-weight="bold" fill="#1a1a1a" textLength="10.2" lengthAdjust="spacingAndGlyphs" stroke="#1a1a1a" stroke-width="0.1" style="font-style:italic">neg</text>
<line x1="416.70" y1="249.30" x2="416.70" y2="251.10" stroke="#2a2a2a" stroke-width="0.8" />
<text x="416.70" y="260.80" font-size="6.3" text-anchor="middle" font-weight="normal" fill="#1a1a1a" stroke="#1a1a1a" stroke-width="0.3">neg</text>
<line x1="431.80" y1="249.30" x2="431.80" y2="251.10" stroke="#2a2a2a" stroke-width="0.8" />
<text x="431.80" y="260.80" font-size="6.3" text-anchor="middle" font-weight="normal" fill="#1a1a1a" stroke="#1a1a1a" stroke-width="0.3">pos</text>
<line x1="445.70" y1="249.30" x2="445.70" y2="251.10" stroke="#2a2a2a" stroke-width="0.8" />
<text x="445.70" y="260.80" font-size="6.3" text-anchor="middle" font-weight="normal" fill="#1a1a1a" stroke="#1a1a1a" stroke-width="0.3">-4</text>
<line x1="459.80" y1="249.30" x2="459.80" y2="251.10" stroke="#2a2a2a" stroke-width="0.8" />
<text x="459.80" y="260.80" font-size="6.3" text-anchor="middle" font-weight="normal" fill="#1a1a1a" stroke="#1a1a1a" stroke-width="0.3">-3</text>
<line x1="474.20" y1="249.30" x2="474.20" y2="251.10" stroke="#2a2a2a" stroke-width="0.8" />
<text x="474.20" y="260.80" font-size="6.3" text-anchor="middle" font-weight="normal" fill="#1a1a1a" stroke="#1a1a1a" stroke-width="0.3">-2</text>
<line x1="488.20" y1="249.30" x2="488.20" y2="251.10" stroke="#2a2a2a" stroke-width="0.8" />
<text x="488.20" y="260.80" font-size="6.3" text-anchor="middle" font-weight="normal" fill="#1a1a1a" stroke="#1a1a1a" stroke-width="0.3">-1</text>
<line x1="503.00" y1="249.30" x2="503.00" y2="251.10" stroke="#2a2a2a" stroke-width="0.8" />
<text x="503.00" y="260.80" font-size="6.3" text-anchor="middle" font-weight="normal" fill="#1a1a1a" stroke="#1a1a1a" stroke-width="0.3">0</text>
<line x1="516.20" y1="249.30" x2="516.20" y2="251.10" stroke="#2a2a2a" stroke-width="0.8" />
<text x="516.20" y="260.80" font-size="6.3" text-anchor="middle" font-weight="normal" fill="#1a1a1a" stroke="#1a1a1a" stroke-width="0.3">1</text>
<text x="462.95" y="270.20" font-size="7.0" text-anchor="middle" font-weight="normal" fill="#1a1a1a" textLength="42.69999999999999" lengthAdjust="spacingAndGlyphs" stroke="#1a1a1a" stroke-width="0.3">Log10[CSRP2]</text>
<text x="391.30" y="205.00" font-size="6.5" text-anchor="middle" font-weight="bold" fill="#1a1a1a" textLength="54" lengthAdjust="spacingAndGlyphs" transform="rotate(-90 391.30 205.00)" stroke="#1a1a1a" stroke-width="0.1">Log10[BCR-ABL]</text>
<line x1="443.80" y1="225.20" x2="510.80" y2="167.60" stroke="#111" stroke-width="1.3" />
<ellipse cx="458.80" cy="203.20" rx="1.55" ry="1.85" fill="none" stroke="#151515" stroke-width="0.95"/>
<ellipse cx="458.80" cy="207.10" rx="1.55" ry="1.85" fill="none" stroke="#151515" stroke-width="0.95"/>
<ellipse cx="451.80" cy="212.60" rx="1.55" ry="1.85" fill="none" stroke="#151515" stroke-width="0.95"/>
<ellipse cx="451.80" cy="214.80" rx="1.55" ry="1.85" fill="none" stroke="#151515" stroke-width="0.95"/>
<ellipse cx="462.60" cy="210.40" rx="1.55" ry="1.85" fill="none" stroke="#151515" stroke-width="0.95"/>
<ellipse cx="467.40" cy="203.60" rx="1.55" ry="1.85" fill="none" stroke="#151515" stroke-width="0.95"/>
<ellipse cx="469.80" cy="195.90" rx="1.55" ry="1.85" fill="none" stroke="#151515" stroke-width="0.95"/>
<ellipse cx="471.30" cy="200.70" rx="1.55" ry="1.85" fill="none" stroke="#151515" stroke-width="0.95"/>
<ellipse cx="473.20" cy="207.10" rx="1.55" ry="1.85" fill="none" stroke="#151515" stroke-width="0.95"/>
<ellipse cx="475.60" cy="200.70" rx="1.55" ry="1.85" fill="none" stroke="#151515" stroke-width="0.95"/>
<ellipse cx="476.70" cy="195.90" rx="1.55" ry="1.85" fill="none" stroke="#151515" stroke-width="0.95"/>
<ellipse cx="479.00" cy="198.20" rx="1.55" ry="1.85" fill="none" stroke="#151515" stroke-width="0.95"/>
<ellipse cx="481.00" cy="190.10" rx="1.55" ry="1.85" fill="none" stroke="#151515" stroke-width="0.95"/>
<ellipse cx="481.90" cy="193.60" rx="1.55" ry="1.85" fill="none" stroke="#151515" stroke-width="0.95"/>
<ellipse cx="483.30" cy="194.90" rx="1.55" ry="1.85" fill="none" stroke="#151515" stroke-width="0.95"/>
<ellipse cx="485.80" cy="187.20" rx="1.55" ry="1.85" fill="none" stroke="#151515" stroke-width="0.95"/>
<ellipse cx="488.30" cy="192.40" rx="1.55" ry="1.85" fill="none" stroke="#151515" stroke-width="0.95"/>
<ellipse cx="491.60" cy="182.00" rx="1.55" ry="1.85" fill="none" stroke="#151515" stroke-width="0.95"/>
<ellipse cx="494.50" cy="182.80" rx="1.55" ry="1.85" fill="none" stroke="#151515" stroke-width="0.95"/>
<ellipse cx="495.40" cy="176.20" rx="1.55" ry="1.85" fill="none" stroke="#151515" stroke-width="0.95"/>
<ellipse cx="499.30" cy="174.30" rx="1.55" ry="1.85" fill="none" stroke="#151515" stroke-width="0.95"/>
<ellipse cx="500.30" cy="175.60" rx="1.55" ry="1.85" fill="none" stroke="#151515" stroke-width="0.95"/>
<ellipse cx="501.80" cy="176.60" rx="1.55" ry="1.85" fill="none" stroke="#151515" stroke-width="0.95"/>
<ellipse cx="501.20" cy="179.50" rx="1.55" ry="1.85" fill="none" stroke="#151515" stroke-width="0.95"/>
<ellipse cx="502.60" cy="180.80" rx="1.55" ry="1.85" fill="none" stroke="#151515" stroke-width="0.95"/>
<ellipse cx="498.30" cy="177.50" rx="1.55" ry="1.85" fill="none" stroke="#151515" stroke-width="0.95"/>
<ellipse cx="418.80" cy="227.50" rx="1.3" ry="1.7" fill="none" stroke="#151515" stroke-width="0.95"/>
<ellipse cx="433.40" cy="227.50" rx="1.3" ry="1.7" fill="none" stroke="#151515" stroke-width="0.95"/>
<ellipse cx="418.80" cy="238.00" rx="1.3" ry="1.7" fill="none" stroke="#151515" stroke-width="0.95"/>
<ellipse cx="433.40" cy="238.00" rx="1.3" ry="1.7" fill="none" stroke="#151515" stroke-width="0.95"/>
<text x="410.30" y="221.50" font-size="5.8" text-anchor="start" font-weight="bold" fill="#1a1a1a" textLength="10.2" lengthAdjust="spacingAndGlyphs" stroke="#1a1a1a" stroke-width="0.2"><tspan font-style="italic">n</tspan>=1</text>
<text x="432.70" y="221.50" font-size="5.8" text-anchor="start" font-weight="bold" fill="#1a1a1a" textLength="10.4" lengthAdjust="spacingAndGlyphs" stroke="#1a1a1a" stroke-width="0.2"><tspan font-style="italic">n</tspan>=4</text>
<text x="411.60" y="246.40" font-size="5.8" text-anchor="start" font-weight="bold" fill="#1a1a1a" textLength="10.3" lengthAdjust="spacingAndGlyphs" stroke="#1a1a1a" stroke-width="0.2"><tspan font-style="italic">n</tspan>=2</text>
<text x="433.40" y="246.40" font-size="5.8" text-anchor="start" font-weight="bold" fill="#1a1a1a" textLength="10.4" lengthAdjust="spacingAndGlyphs" stroke="#1a1a1a" stroke-width="0.2"><tspan font-style="italic">n</tspan>=3</text>
<text x="449.00" y="235.40" font-size="6.4" text-anchor="start" font-weight="normal" fill="#1a1a1a" textLength="56" lengthAdjust="spacingAndGlyphs" stroke="#1a1a1a" stroke-width="0.3"><tspan font-style="italic">r</tspan>=0.933, <tspan font-style="italic">P</tspan>&lt;0.0001</text>
</svg></body></html>
